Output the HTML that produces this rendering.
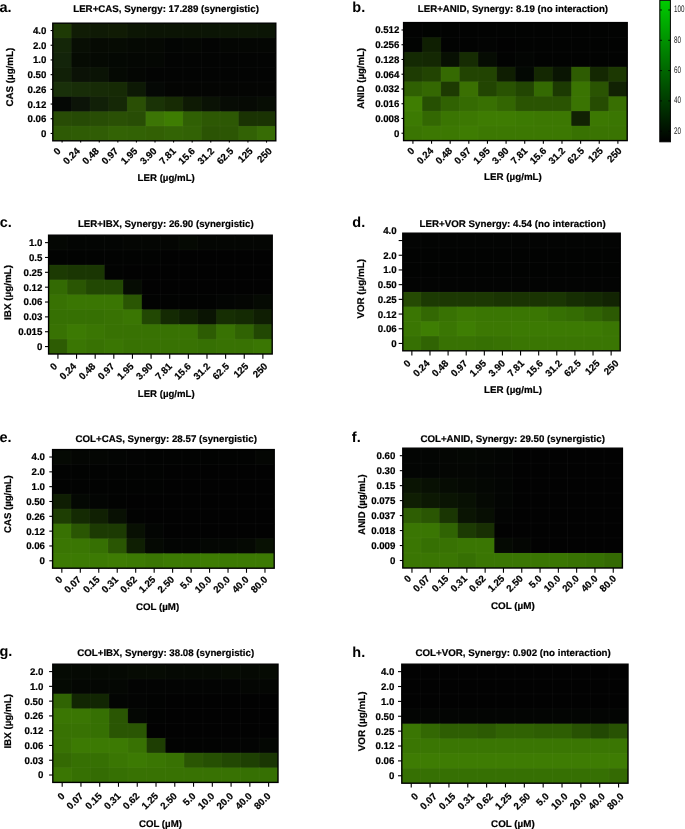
<!DOCTYPE html>
<html><head><meta charset="utf-8"><style>
html,body{margin:0;padding:0;background:#fff;}
body{width:685px;height:829px;overflow:hidden;}
svg{display:block;}
text{font-family:"Liberation Sans", Arial, Helvetica, sans-serif;fill:#000;text-rendering:geometricPrecision;}
.t{font-size:9.7px;font-weight:bold;stroke:#000;stroke-width:0.2px;}
.tx{font-size:9.7px;font-weight:bold;stroke:#000;stroke-width:0.2px;}
.le{font-size:14.5px;font-weight:bold;}
.cbt{font-size:9.5px;fill:#222;}
</style></head><body>
<svg width="685" height="829" viewBox="0 0 685 829">
<rect x="52.8" y="23.2" width="19.58" height="15.7" fill="#1e3a05"/>
<rect x="71.38" y="23.2" width="19.58" height="15.7" fill="#101c05"/>
<rect x="89.97" y="23.2" width="19.58" height="15.7" fill="#0f1a05"/>
<rect x="108.55" y="23.2" width="19.58" height="15.7" fill="#101b04"/>
<rect x="127.13" y="23.2" width="19.58" height="15.7" fill="#0c1604"/>
<rect x="145.72" y="23.2" width="19.58" height="15.7" fill="#0b1404"/>
<rect x="164.3" y="23.2" width="19.58" height="15.7" fill="#0b1404"/>
<rect x="182.88" y="23.2" width="19.58" height="15.7" fill="#0b1404"/>
<rect x="201.47" y="23.2" width="19.58" height="15.7" fill="#0b1505"/>
<rect x="220.05" y="23.2" width="19.58" height="15.7" fill="#0c1605"/>
<rect x="238.63" y="23.2" width="19.58" height="15.7" fill="#0c1605"/>
<rect x="257.22" y="23.2" width="18.58" height="15.7" fill="#0b1505"/>
<rect x="52.8" y="37.9" width="19.58" height="15.7" fill="#142608"/>
<rect x="71.38" y="37.9" width="19.58" height="15.7" fill="#080e04"/>
<rect x="89.97" y="37.9" width="19.58" height="15.7" fill="#060a03"/>
<rect x="108.55" y="37.9" width="19.58" height="15.7" fill="#060b03"/>
<rect x="127.13" y="37.9" width="19.58" height="15.7" fill="#050903"/>
<rect x="145.72" y="37.9" width="19.58" height="15.7" fill="#050803"/>
<rect x="164.3" y="37.9" width="19.58" height="15.7" fill="#030503"/>
<rect x="182.88" y="37.9" width="19.58" height="15.7" fill="#040603"/>
<rect x="201.47" y="37.9" width="19.58" height="15.7" fill="#030403"/>
<rect x="220.05" y="37.9" width="19.58" height="15.7" fill="#040603"/>
<rect x="238.63" y="37.9" width="19.58" height="15.7" fill="#040603"/>
<rect x="257.22" y="37.9" width="18.58" height="15.7" fill="#040603"/>
<rect x="52.8" y="52.6" width="19.58" height="15.7" fill="#13240a"/>
<rect x="71.38" y="52.6" width="19.58" height="15.7" fill="#060b03"/>
<rect x="89.97" y="52.6" width="19.58" height="15.7" fill="#050903"/>
<rect x="108.55" y="52.6" width="19.58" height="15.7" fill="#040803"/>
<rect x="127.13" y="52.6" width="19.58" height="15.7" fill="#040703"/>
<rect x="145.72" y="52.6" width="19.58" height="15.7" fill="#040703"/>
<rect x="164.3" y="52.6" width="19.58" height="15.7" fill="#030403"/>
<rect x="182.88" y="52.6" width="19.58" height="15.7" fill="#030403"/>
<rect x="201.47" y="52.6" width="19.58" height="15.7" fill="#030403"/>
<rect x="220.05" y="52.6" width="19.58" height="15.7" fill="#030403"/>
<rect x="238.63" y="52.6" width="19.58" height="15.7" fill="#030403"/>
<rect x="257.22" y="52.6" width="18.58" height="15.7" fill="#030403"/>
<rect x="52.8" y="67.3" width="19.58" height="15.7" fill="#112007"/>
<rect x="71.38" y="67.3" width="19.58" height="15.7" fill="#0b1206"/>
<rect x="89.97" y="67.3" width="19.58" height="15.7" fill="#0a1305"/>
<rect x="108.55" y="67.3" width="19.58" height="15.7" fill="#050903"/>
<rect x="127.13" y="67.3" width="19.58" height="15.7" fill="#040603"/>
<rect x="145.72" y="67.3" width="19.58" height="15.7" fill="#030403"/>
<rect x="164.3" y="67.3" width="19.58" height="15.7" fill="#030403"/>
<rect x="182.88" y="67.3" width="19.58" height="15.7" fill="#030403"/>
<rect x="201.47" y="67.3" width="19.58" height="15.7" fill="#030403"/>
<rect x="220.05" y="67.3" width="19.58" height="15.7" fill="#030403"/>
<rect x="238.63" y="67.3" width="19.58" height="15.7" fill="#030403"/>
<rect x="257.22" y="67.3" width="18.58" height="15.7" fill="#030403"/>
<rect x="52.8" y="82" width="19.58" height="15.7" fill="#19300a"/>
<rect x="71.38" y="82" width="19.58" height="15.7" fill="#182d08"/>
<rect x="89.97" y="82" width="19.58" height="15.7" fill="#172b07"/>
<rect x="108.55" y="82" width="19.58" height="15.7" fill="#162a05"/>
<rect x="127.13" y="82" width="19.58" height="15.7" fill="#0d1905"/>
<rect x="145.72" y="82" width="19.58" height="15.7" fill="#050805"/>
<rect x="164.3" y="82" width="19.58" height="15.7" fill="#040503"/>
<rect x="182.88" y="82" width="19.58" height="15.7" fill="#040503"/>
<rect x="201.47" y="82" width="19.58" height="15.7" fill="#040503"/>
<rect x="220.05" y="82" width="19.58" height="15.7" fill="#040503"/>
<rect x="238.63" y="82" width="19.58" height="15.7" fill="#040503"/>
<rect x="257.22" y="82" width="18.58" height="15.7" fill="#040503"/>
<rect x="52.8" y="96.7" width="19.58" height="15.7" fill="#050805"/>
<rect x="71.38" y="96.7" width="19.58" height="15.7" fill="#0c1408"/>
<rect x="89.97" y="96.7" width="19.58" height="15.7" fill="#112008"/>
<rect x="108.55" y="96.7" width="19.58" height="15.7" fill="#152806"/>
<rect x="127.13" y="96.7" width="19.58" height="15.7" fill="#2a4f05"/>
<rect x="145.72" y="96.7" width="19.58" height="15.7" fill="#1a3306"/>
<rect x="164.3" y="96.7" width="19.58" height="15.7" fill="#172b04"/>
<rect x="182.88" y="96.7" width="19.58" height="15.7" fill="#0e1a04"/>
<rect x="201.47" y="96.7" width="19.58" height="15.7" fill="#0a1205"/>
<rect x="220.05" y="96.7" width="19.58" height="15.7" fill="#070c05"/>
<rect x="238.63" y="96.7" width="19.58" height="15.7" fill="#060a04"/>
<rect x="257.22" y="96.7" width="18.58" height="15.7" fill="#070d04"/>
<rect x="52.8" y="111.4" width="19.58" height="15.7" fill="#284c05"/>
<rect x="71.38" y="111.4" width="19.58" height="15.7" fill="#264a05"/>
<rect x="89.97" y="111.4" width="19.58" height="15.7" fill="#284d05"/>
<rect x="108.55" y="111.4" width="19.58" height="15.7" fill="#2a5005"/>
<rect x="127.13" y="111.4" width="19.58" height="15.7" fill="#284d05"/>
<rect x="145.72" y="111.4" width="19.58" height="15.7" fill="#3c7505"/>
<rect x="164.3" y="111.4" width="19.58" height="15.7" fill="#3e7d02"/>
<rect x="182.88" y="111.4" width="19.58" height="15.7" fill="#306004"/>
<rect x="201.47" y="111.4" width="19.58" height="15.7" fill="#2d5804"/>
<rect x="220.05" y="111.4" width="19.58" height="15.7" fill="#2d5804"/>
<rect x="238.63" y="111.4" width="19.58" height="15.7" fill="#1a3303"/>
<rect x="257.22" y="111.4" width="18.58" height="15.7" fill="#1a3303"/>
<rect x="52.8" y="126.1" width="19.58" height="14.7" fill="#2e5a05"/>
<rect x="71.38" y="126.1" width="19.58" height="14.7" fill="#2f5c05"/>
<rect x="89.97" y="126.1" width="19.58" height="14.7" fill="#305d05"/>
<rect x="108.55" y="126.1" width="19.58" height="14.7" fill="#336305"/>
<rect x="127.13" y="126.1" width="19.58" height="14.7" fill="#326205"/>
<rect x="145.72" y="126.1" width="19.58" height="14.7" fill="#326004"/>
<rect x="164.3" y="126.1" width="19.58" height="14.7" fill="#336405"/>
<rect x="182.88" y="126.1" width="19.58" height="14.7" fill="#326205"/>
<rect x="201.47" y="126.1" width="19.58" height="14.7" fill="#2b5404"/>
<rect x="220.05" y="126.1" width="19.58" height="14.7" fill="#2c5604"/>
<rect x="238.63" y="126.1" width="19.58" height="14.7" fill="#326205"/>
<rect x="257.22" y="126.1" width="18.58" height="14.7" fill="#376c05"/>
<path d="M71.38 23.2V140.8M89.97 23.2V140.8M108.55 23.2V140.8M127.13 23.2V140.8M145.72 23.2V140.8M164.3 23.2V140.8M182.88 23.2V140.8M201.47 23.2V140.8M220.05 23.2V140.8M238.63 23.2V140.8M257.22 23.2V140.8M52.8 37.9H275.8M52.8 52.6H275.8M52.8 67.3H275.8M52.8 82H275.8M52.8 96.7H275.8M52.8 111.4H275.8M52.8 126.1H275.8" stroke="#fff" stroke-opacity="0.035" stroke-width="1" fill="none"/>
<rect x="52.8" y="23.2" width="223" height="117.6" fill="none" stroke="#000" stroke-width="1.4"/>
<line x1="50.6" y1="30.55" x2="52.8" y2="30.55" stroke="#000" stroke-width="1.1"/>
<text class="t" x="46.4" y="34" text-anchor="end">4.0</text>
<line x1="50.6" y1="45.25" x2="52.8" y2="45.25" stroke="#000" stroke-width="1.1"/>
<text class="t" x="46.4" y="48.7" text-anchor="end">2.0</text>
<line x1="50.6" y1="59.95" x2="52.8" y2="59.95" stroke="#000" stroke-width="1.1"/>
<text class="t" x="46.4" y="63.4" text-anchor="end">1.0</text>
<line x1="50.6" y1="74.65" x2="52.8" y2="74.65" stroke="#000" stroke-width="1.1"/>
<text class="t" x="46.4" y="78.1" text-anchor="end">0.50</text>
<line x1="50.6" y1="89.35" x2="52.8" y2="89.35" stroke="#000" stroke-width="1.1"/>
<text class="t" x="46.4" y="92.8" text-anchor="end">0.26</text>
<line x1="50.6" y1="104.05" x2="52.8" y2="104.05" stroke="#000" stroke-width="1.1"/>
<text class="t" x="46.4" y="107.5" text-anchor="end">0.12</text>
<line x1="50.6" y1="118.75" x2="52.8" y2="118.75" stroke="#000" stroke-width="1.1"/>
<text class="t" x="46.4" y="122.2" text-anchor="end">0.06</text>
<line x1="50.6" y1="133.45" x2="52.8" y2="133.45" stroke="#000" stroke-width="1.1"/>
<text class="t" x="46.4" y="136.9" text-anchor="end">0</text>
<line x1="62.09" y1="140.8" x2="62.09" y2="142.6" stroke="#000" stroke-width="1.1"/>
<text class="t" x="61.27" y="151.7" text-anchor="end" transform="rotate(-45 61.27 151.7)">0</text>
<line x1="80.67" y1="140.8" x2="80.67" y2="142.6" stroke="#000" stroke-width="1.1"/>
<text class="t" x="80.47" y="151.7" text-anchor="end" transform="rotate(-45 80.47 151.7)">0.24</text>
<line x1="99.26" y1="140.8" x2="99.26" y2="142.6" stroke="#000" stroke-width="1.1"/>
<text class="t" x="99.68" y="151.7" text-anchor="end" transform="rotate(-45 99.68 151.7)">0.48</text>
<line x1="117.84" y1="140.8" x2="117.84" y2="142.6" stroke="#000" stroke-width="1.1"/>
<text class="t" x="118.88" y="151.7" text-anchor="end" transform="rotate(-45 118.88 151.7)">0.97</text>
<line x1="136.43" y1="140.8" x2="136.43" y2="142.6" stroke="#000" stroke-width="1.1"/>
<text class="t" x="138.09" y="151.7" text-anchor="end" transform="rotate(-45 138.09 151.7)">1.95</text>
<line x1="155.01" y1="140.8" x2="155.01" y2="142.6" stroke="#000" stroke-width="1.1"/>
<text class="t" x="157.29" y="151.7" text-anchor="end" transform="rotate(-45 157.29 151.7)">3.90</text>
<line x1="173.59" y1="140.8" x2="173.59" y2="142.6" stroke="#000" stroke-width="1.1"/>
<text class="t" x="176.49" y="151.7" text-anchor="end" transform="rotate(-45 176.49 151.7)">7.81</text>
<line x1="192.18" y1="140.8" x2="192.18" y2="142.6" stroke="#000" stroke-width="1.1"/>
<text class="t" x="195.7" y="151.7" text-anchor="end" transform="rotate(-45 195.7 151.7)">15.6</text>
<line x1="210.76" y1="140.8" x2="210.76" y2="142.6" stroke="#000" stroke-width="1.1"/>
<text class="t" x="214.9" y="151.7" text-anchor="end" transform="rotate(-45 214.9 151.7)">31.2</text>
<line x1="229.34" y1="140.8" x2="229.34" y2="142.6" stroke="#000" stroke-width="1.1"/>
<text class="t" x="234.1" y="151.7" text-anchor="end" transform="rotate(-45 234.1 151.7)">62.5</text>
<line x1="247.93" y1="140.8" x2="247.93" y2="142.6" stroke="#000" stroke-width="1.1"/>
<text class="t" x="253.31" y="151.7" text-anchor="end" transform="rotate(-45 253.31 151.7)">125</text>
<line x1="266.51" y1="140.8" x2="266.51" y2="142.6" stroke="#000" stroke-width="1.1"/>
<text class="t" x="272.51" y="151.7" text-anchor="end" transform="rotate(-45 272.51 151.7)">250</text>
<text class="tx" x="73.2" y="12" textLength="185.7" lengthAdjust="spacingAndGlyphs">LER+CAS, Synergy: 17.289 (synergistic)</text>
<text class="tx" x="137.6" y="181.1" textLength="57.2" lengthAdjust="spacingAndGlyphs">LER (µg/mL)</text>
<text class="tx" transform="translate(12.6 106.5) rotate(-90)" x="0" y="0" textLength="58.7" lengthAdjust="spacingAndGlyphs">CAS (µg/mL)</text>
<text class="le" x="-0.6" y="12.2">a.</text>
<rect x="403.6" y="22.6" width="19.63" height="15.75" fill="#020302"/>
<rect x="422.23" y="22.6" width="19.63" height="15.75" fill="#010301"/>
<rect x="440.87" y="22.6" width="19.63" height="15.75" fill="#020302"/>
<rect x="459.5" y="22.6" width="19.63" height="15.75" fill="#020302"/>
<rect x="478.13" y="22.6" width="19.63" height="15.75" fill="#020302"/>
<rect x="496.77" y="22.6" width="19.63" height="15.75" fill="#020302"/>
<rect x="515.4" y="22.6" width="19.63" height="15.75" fill="#020302"/>
<rect x="534.03" y="22.6" width="19.63" height="15.75" fill="#020302"/>
<rect x="552.67" y="22.6" width="19.63" height="15.75" fill="#020302"/>
<rect x="571.3" y="22.6" width="19.63" height="15.75" fill="#020302"/>
<rect x="589.93" y="22.6" width="19.63" height="15.75" fill="#020302"/>
<rect x="608.57" y="22.6" width="18.63" height="15.75" fill="#020302"/>
<rect x="403.6" y="37.35" width="19.63" height="15.75" fill="#020402"/>
<rect x="422.23" y="37.35" width="19.63" height="15.75" fill="#0f1f02"/>
<rect x="440.87" y="37.35" width="19.63" height="15.75" fill="#020302"/>
<rect x="459.5" y="37.35" width="19.63" height="15.75" fill="#020302"/>
<rect x="478.13" y="37.35" width="19.63" height="15.75" fill="#030403"/>
<rect x="496.77" y="37.35" width="19.63" height="15.75" fill="#020202"/>
<rect x="515.4" y="37.35" width="19.63" height="15.75" fill="#020302"/>
<rect x="534.03" y="37.35" width="19.63" height="15.75" fill="#020302"/>
<rect x="552.67" y="37.35" width="19.63" height="15.75" fill="#020302"/>
<rect x="571.3" y="37.35" width="19.63" height="15.75" fill="#020302"/>
<rect x="589.93" y="37.35" width="19.63" height="15.75" fill="#020302"/>
<rect x="608.57" y="37.35" width="18.63" height="15.75" fill="#020302"/>
<rect x="403.6" y="52.1" width="19.63" height="15.75" fill="#142a03"/>
<rect x="422.23" y="52.1" width="19.63" height="15.75" fill="#142803"/>
<rect x="440.87" y="52.1" width="19.63" height="15.75" fill="#081003"/>
<rect x="459.5" y="52.1" width="19.63" height="15.75" fill="#162c03"/>
<rect x="478.13" y="52.1" width="19.63" height="15.75" fill="#060c03"/>
<rect x="496.77" y="52.1" width="19.63" height="15.75" fill="#020302"/>
<rect x="515.4" y="52.1" width="19.63" height="15.75" fill="#030503"/>
<rect x="534.03" y="52.1" width="19.63" height="15.75" fill="#020302"/>
<rect x="552.67" y="52.1" width="19.63" height="15.75" fill="#020302"/>
<rect x="571.3" y="52.1" width="19.63" height="15.75" fill="#020302"/>
<rect x="589.93" y="52.1" width="19.63" height="15.75" fill="#020302"/>
<rect x="608.57" y="52.1" width="18.63" height="15.75" fill="#020302"/>
<rect x="403.6" y="66.85" width="19.63" height="15.75" fill="#1e3c03"/>
<rect x="422.23" y="66.85" width="19.63" height="15.75" fill="#224402"/>
<rect x="440.87" y="66.85" width="19.63" height="15.75" fill="#356a02"/>
<rect x="459.5" y="66.85" width="19.63" height="15.75" fill="#224402"/>
<rect x="478.13" y="66.85" width="19.63" height="15.75" fill="#224402"/>
<rect x="496.77" y="66.85" width="19.63" height="15.75" fill="#0f1e02"/>
<rect x="515.4" y="66.85" width="19.63" height="15.75" fill="#030803"/>
<rect x="534.03" y="66.85" width="19.63" height="15.75" fill="#142802"/>
<rect x="552.67" y="66.85" width="19.63" height="15.75" fill="#0a1503"/>
<rect x="571.3" y="66.85" width="19.63" height="15.75" fill="#2e5c02"/>
<rect x="589.93" y="66.85" width="19.63" height="15.75" fill="#142802"/>
<rect x="608.57" y="66.85" width="18.63" height="15.75" fill="#1c3802"/>
<rect x="403.6" y="81.6" width="19.63" height="15.75" fill="#2f6002"/>
<rect x="422.23" y="81.6" width="19.63" height="15.75" fill="#346802"/>
<rect x="440.87" y="81.6" width="19.63" height="15.75" fill="#1d3a02"/>
<rect x="459.5" y="81.6" width="19.63" height="15.75" fill="#3a7002"/>
<rect x="478.13" y="81.6" width="19.63" height="15.75" fill="#224502"/>
<rect x="496.77" y="81.6" width="19.63" height="15.75" fill="#295302"/>
<rect x="515.4" y="81.6" width="19.63" height="15.75" fill="#224602"/>
<rect x="534.03" y="81.6" width="19.63" height="15.75" fill="#346a02"/>
<rect x="552.67" y="81.6" width="19.63" height="15.75" fill="#1c3a02"/>
<rect x="571.3" y="81.6" width="19.63" height="15.75" fill="#3a7402"/>
<rect x="589.93" y="81.6" width="19.63" height="15.75" fill="#2a5402"/>
<rect x="608.57" y="81.6" width="18.63" height="15.75" fill="#112203"/>
<rect x="403.6" y="96.35" width="19.63" height="15.75" fill="#3f7e02"/>
<rect x="422.23" y="96.35" width="19.63" height="15.75" fill="#265002"/>
<rect x="440.87" y="96.35" width="19.63" height="15.75" fill="#306202"/>
<rect x="459.5" y="96.35" width="19.63" height="15.75" fill="#356b02"/>
<rect x="478.13" y="96.35" width="19.63" height="15.75" fill="#387002"/>
<rect x="496.77" y="96.35" width="19.63" height="15.75" fill="#336602"/>
<rect x="515.4" y="96.35" width="19.63" height="15.75" fill="#2a5402"/>
<rect x="534.03" y="96.35" width="19.63" height="15.75" fill="#2a5402"/>
<rect x="552.67" y="96.35" width="19.63" height="15.75" fill="#2a5402"/>
<rect x="571.3" y="96.35" width="19.63" height="15.75" fill="#3a7402"/>
<rect x="589.93" y="96.35" width="19.63" height="15.75" fill="#264c02"/>
<rect x="608.57" y="96.35" width="18.63" height="15.75" fill="#386f02"/>
<rect x="403.6" y="111.1" width="19.63" height="15.75" fill="#3c7a02"/>
<rect x="422.23" y="111.1" width="19.63" height="15.75" fill="#336802"/>
<rect x="440.87" y="111.1" width="19.63" height="15.75" fill="#3a7502"/>
<rect x="459.5" y="111.1" width="19.63" height="15.75" fill="#3c7802"/>
<rect x="478.13" y="111.1" width="19.63" height="15.75" fill="#3e7c02"/>
<rect x="496.77" y="111.1" width="19.63" height="15.75" fill="#3e7c02"/>
<rect x="515.4" y="111.1" width="19.63" height="15.75" fill="#3c7a02"/>
<rect x="534.03" y="111.1" width="19.63" height="15.75" fill="#3c7802"/>
<rect x="552.67" y="111.1" width="19.63" height="15.75" fill="#3c7802"/>
<rect x="571.3" y="111.1" width="19.63" height="15.75" fill="#112203"/>
<rect x="589.93" y="111.1" width="19.63" height="15.75" fill="#3c7802"/>
<rect x="608.57" y="111.1" width="18.63" height="15.75" fill="#3a7602"/>
<rect x="403.6" y="125.85" width="19.63" height="14.75" fill="#3a7502"/>
<rect x="422.23" y="125.85" width="19.63" height="14.75" fill="#3c7802"/>
<rect x="440.87" y="125.85" width="19.63" height="14.75" fill="#3c7802"/>
<rect x="459.5" y="125.85" width="19.63" height="14.75" fill="#3e7c02"/>
<rect x="478.13" y="125.85" width="19.63" height="14.75" fill="#3c7802"/>
<rect x="496.77" y="125.85" width="19.63" height="14.75" fill="#3c7802"/>
<rect x="515.4" y="125.85" width="19.63" height="14.75" fill="#3c7802"/>
<rect x="534.03" y="125.85" width="19.63" height="14.75" fill="#3c7802"/>
<rect x="552.67" y="125.85" width="19.63" height="14.75" fill="#3c7802"/>
<rect x="571.3" y="125.85" width="19.63" height="14.75" fill="#387202"/>
<rect x="589.93" y="125.85" width="19.63" height="14.75" fill="#3a7402"/>
<rect x="608.57" y="125.85" width="18.63" height="14.75" fill="#3a7402"/>
<path d="M422.23 22.6V140.6M440.87 22.6V140.6M459.5 22.6V140.6M478.13 22.6V140.6M496.77 22.6V140.6M515.4 22.6V140.6M534.03 22.6V140.6M552.67 22.6V140.6M571.3 22.6V140.6M589.93 22.6V140.6M608.57 22.6V140.6M403.6 37.35H627.2M403.6 52.1H627.2M403.6 66.85H627.2M403.6 81.6H627.2M403.6 96.35H627.2M403.6 111.1H627.2M403.6 125.85H627.2" stroke="#fff" stroke-opacity="0.035" stroke-width="1" fill="none"/>
<rect x="403.6" y="22.6" width="223.6" height="118" fill="none" stroke="#000" stroke-width="1.4"/>
<line x1="401.5" y1="29.98" x2="403.6" y2="29.98" stroke="#000" stroke-width="1.1"/>
<text class="t" x="399.4" y="33.43" text-anchor="end">0.512</text>
<line x1="401.5" y1="44.73" x2="403.6" y2="44.73" stroke="#000" stroke-width="1.1"/>
<text class="t" x="399.4" y="48.18" text-anchor="end">0.256</text>
<line x1="401.5" y1="59.48" x2="403.6" y2="59.48" stroke="#000" stroke-width="1.1"/>
<text class="t" x="399.4" y="62.93" text-anchor="end">0.128</text>
<line x1="401.5" y1="74.22" x2="403.6" y2="74.22" stroke="#000" stroke-width="1.1"/>
<text class="t" x="399.4" y="77.67" text-anchor="end">0.064</text>
<line x1="401.5" y1="88.97" x2="403.6" y2="88.97" stroke="#000" stroke-width="1.1"/>
<text class="t" x="399.4" y="92.42" text-anchor="end">0.032</text>
<line x1="401.5" y1="103.72" x2="403.6" y2="103.72" stroke="#000" stroke-width="1.1"/>
<text class="t" x="399.4" y="107.17" text-anchor="end">0.016</text>
<line x1="401.5" y1="118.47" x2="403.6" y2="118.47" stroke="#000" stroke-width="1.1"/>
<text class="t" x="399.4" y="121.92" text-anchor="end">0.008</text>
<line x1="401.5" y1="133.22" x2="403.6" y2="133.22" stroke="#000" stroke-width="1.1"/>
<text class="t" x="399.4" y="136.67" text-anchor="end">0</text>
<line x1="412.92" y1="140.6" x2="412.92" y2="143.7" stroke="#000" stroke-width="1.1"/>
<text class="t" x="415.16" y="151.45" text-anchor="end" transform="rotate(-45 415.16 151.45)">0</text>
<line x1="431.55" y1="140.6" x2="431.55" y2="143.7" stroke="#000" stroke-width="1.1"/>
<text class="t" x="434" y="151.45" text-anchor="end" transform="rotate(-45 434 151.45)">0.24</text>
<line x1="450.18" y1="140.6" x2="450.18" y2="143.7" stroke="#000" stroke-width="1.1"/>
<text class="t" x="452.84" y="151.45" text-anchor="end" transform="rotate(-45 452.84 151.45)">0.48</text>
<line x1="468.82" y1="140.6" x2="468.82" y2="143.7" stroke="#000" stroke-width="1.1"/>
<text class="t" x="471.68" y="151.45" text-anchor="end" transform="rotate(-45 471.68 151.45)">0.97</text>
<line x1="487.45" y1="140.6" x2="487.45" y2="143.7" stroke="#000" stroke-width="1.1"/>
<text class="t" x="490.51" y="151.45" text-anchor="end" transform="rotate(-45 490.51 151.45)">1.95</text>
<line x1="506.08" y1="140.6" x2="506.08" y2="143.7" stroke="#000" stroke-width="1.1"/>
<text class="t" x="509.35" y="151.45" text-anchor="end" transform="rotate(-45 509.35 151.45)">3.90</text>
<line x1="524.72" y1="140.6" x2="524.72" y2="143.7" stroke="#000" stroke-width="1.1"/>
<text class="t" x="528.19" y="151.45" text-anchor="end" transform="rotate(-45 528.19 151.45)">7.81</text>
<line x1="543.35" y1="140.6" x2="543.35" y2="143.7" stroke="#000" stroke-width="1.1"/>
<text class="t" x="547.03" y="151.45" text-anchor="end" transform="rotate(-45 547.03 151.45)">15.6</text>
<line x1="561.98" y1="140.6" x2="561.98" y2="143.7" stroke="#000" stroke-width="1.1"/>
<text class="t" x="565.87" y="151.45" text-anchor="end" transform="rotate(-45 565.87 151.45)">31.2</text>
<line x1="580.62" y1="140.6" x2="580.62" y2="143.7" stroke="#000" stroke-width="1.1"/>
<text class="t" x="584.71" y="151.45" text-anchor="end" transform="rotate(-45 584.71 151.45)">62.5</text>
<line x1="599.25" y1="140.6" x2="599.25" y2="143.7" stroke="#000" stroke-width="1.1"/>
<text class="t" x="603.54" y="151.45" text-anchor="end" transform="rotate(-45 603.54 151.45)">125</text>
<line x1="617.88" y1="140.6" x2="617.88" y2="143.7" stroke="#000" stroke-width="1.1"/>
<text class="t" x="622.38" y="151.45" text-anchor="end" transform="rotate(-45 622.38 151.45)">250</text>
<text class="tx" x="417.8" y="12.3" textLength="190.3" lengthAdjust="spacingAndGlyphs">LER+ANID, Synergy: 8.19 (no interaction)</text>
<text class="tx" x="484.1" y="180.4" textLength="57.7" lengthAdjust="spacingAndGlyphs">LER (µg/mL)</text>
<text class="tx" transform="translate(364.1 108.7) rotate(-90)" x="0" y="0" textLength="60.6" lengthAdjust="spacingAndGlyphs">ANID (µg/mL)</text>
<text class="le" x="352.3" y="11.9">b.</text>
<rect x="48.6" y="235.2" width="19.63" height="15.85" fill="#040703"/>
<rect x="67.23" y="235.2" width="19.63" height="15.85" fill="#030503"/>
<rect x="85.87" y="235.2" width="19.63" height="15.85" fill="#030503"/>
<rect x="104.5" y="235.2" width="19.63" height="15.85" fill="#030503"/>
<rect x="123.13" y="235.2" width="19.63" height="15.85" fill="#040603"/>
<rect x="141.77" y="235.2" width="19.63" height="15.85" fill="#040603"/>
<rect x="160.4" y="235.2" width="19.63" height="15.85" fill="#040603"/>
<rect x="179.03" y="235.2" width="19.63" height="15.85" fill="#050903"/>
<rect x="197.67" y="235.2" width="19.63" height="15.85" fill="#040603"/>
<rect x="216.3" y="235.2" width="19.63" height="15.85" fill="#040603"/>
<rect x="234.93" y="235.2" width="19.63" height="15.85" fill="#040603"/>
<rect x="253.57" y="235.2" width="18.63" height="15.85" fill="#040603"/>
<rect x="48.6" y="250.05" width="19.63" height="15.85" fill="#020302"/>
<rect x="67.23" y="250.05" width="19.63" height="15.85" fill="#020302"/>
<rect x="85.87" y="250.05" width="19.63" height="15.85" fill="#020302"/>
<rect x="104.5" y="250.05" width="19.63" height="15.85" fill="#020302"/>
<rect x="123.13" y="250.05" width="19.63" height="15.85" fill="#020302"/>
<rect x="141.77" y="250.05" width="19.63" height="15.85" fill="#020302"/>
<rect x="160.4" y="250.05" width="19.63" height="15.85" fill="#020202"/>
<rect x="179.03" y="250.05" width="19.63" height="15.85" fill="#020202"/>
<rect x="197.67" y="250.05" width="19.63" height="15.85" fill="#020202"/>
<rect x="216.3" y="250.05" width="19.63" height="15.85" fill="#020202"/>
<rect x="234.93" y="250.05" width="19.63" height="15.85" fill="#020202"/>
<rect x="253.57" y="250.05" width="18.63" height="15.85" fill="#020202"/>
<rect x="48.6" y="264.9" width="19.63" height="15.85" fill="#1c3a03"/>
<rect x="67.23" y="264.9" width="19.63" height="15.85" fill="#1a3603"/>
<rect x="85.87" y="264.9" width="19.63" height="15.85" fill="#1a3603"/>
<rect x="104.5" y="264.9" width="19.63" height="15.85" fill="#020302"/>
<rect x="123.13" y="264.9" width="19.63" height="15.85" fill="#020202"/>
<rect x="141.77" y="264.9" width="19.63" height="15.85" fill="#020202"/>
<rect x="160.4" y="264.9" width="19.63" height="15.85" fill="#020202"/>
<rect x="179.03" y="264.9" width="19.63" height="15.85" fill="#020202"/>
<rect x="197.67" y="264.9" width="19.63" height="15.85" fill="#020202"/>
<rect x="216.3" y="264.9" width="19.63" height="15.85" fill="#020202"/>
<rect x="234.93" y="264.9" width="19.63" height="15.85" fill="#020202"/>
<rect x="253.57" y="264.9" width="18.63" height="15.85" fill="#020202"/>
<rect x="48.6" y="279.75" width="19.63" height="15.85" fill="#336a03"/>
<rect x="67.23" y="279.75" width="19.63" height="15.85" fill="#2a5603"/>
<rect x="85.87" y="279.75" width="19.63" height="15.85" fill="#224803"/>
<rect x="104.5" y="279.75" width="19.63" height="15.85" fill="#224803"/>
<rect x="123.13" y="279.75" width="19.63" height="15.85" fill="#060c03"/>
<rect x="141.77" y="279.75" width="19.63" height="15.85" fill="#020202"/>
<rect x="160.4" y="279.75" width="19.63" height="15.85" fill="#020202"/>
<rect x="179.03" y="279.75" width="19.63" height="15.85" fill="#020202"/>
<rect x="197.67" y="279.75" width="19.63" height="15.85" fill="#020202"/>
<rect x="216.3" y="279.75" width="19.63" height="15.85" fill="#020202"/>
<rect x="234.93" y="279.75" width="19.63" height="15.85" fill="#020202"/>
<rect x="253.57" y="279.75" width="18.63" height="15.85" fill="#020202"/>
<rect x="48.6" y="294.6" width="19.63" height="15.85" fill="#387203"/>
<rect x="67.23" y="294.6" width="19.63" height="15.85" fill="#3a7603"/>
<rect x="85.87" y="294.6" width="19.63" height="15.85" fill="#3a7603"/>
<rect x="104.5" y="294.6" width="19.63" height="15.85" fill="#3a7603"/>
<rect x="123.13" y="294.6" width="19.63" height="15.85" fill="#2a5603"/>
<rect x="141.77" y="294.6" width="19.63" height="15.85" fill="#020302"/>
<rect x="160.4" y="294.6" width="19.63" height="15.85" fill="#020302"/>
<rect x="179.03" y="294.6" width="19.63" height="15.85" fill="#020302"/>
<rect x="197.67" y="294.6" width="19.63" height="15.85" fill="#020302"/>
<rect x="216.3" y="294.6" width="19.63" height="15.85" fill="#030503"/>
<rect x="234.93" y="294.6" width="19.63" height="15.85" fill="#040603"/>
<rect x="253.57" y="294.6" width="18.63" height="15.85" fill="#050a03"/>
<rect x="48.6" y="309.45" width="19.63" height="15.85" fill="#367003"/>
<rect x="67.23" y="309.45" width="19.63" height="15.85" fill="#367003"/>
<rect x="85.87" y="309.45" width="19.63" height="15.85" fill="#367003"/>
<rect x="104.5" y="309.45" width="19.63" height="15.85" fill="#387203"/>
<rect x="123.13" y="309.45" width="19.63" height="15.85" fill="#3a7603"/>
<rect x="141.77" y="309.45" width="19.63" height="15.85" fill="#224803"/>
<rect x="160.4" y="309.45" width="19.63" height="15.85" fill="#142a03"/>
<rect x="179.03" y="309.45" width="19.63" height="15.85" fill="#0f1f03"/>
<rect x="197.67" y="309.45" width="19.63" height="15.85" fill="#0a1403"/>
<rect x="216.3" y="309.45" width="19.63" height="15.85" fill="#162e03"/>
<rect x="234.93" y="309.45" width="19.63" height="15.85" fill="#142a03"/>
<rect x="253.57" y="309.45" width="18.63" height="15.85" fill="#0f1e03"/>
<rect x="48.6" y="324.3" width="19.63" height="15.85" fill="#387203"/>
<rect x="67.23" y="324.3" width="19.63" height="15.85" fill="#3c7a03"/>
<rect x="85.87" y="324.3" width="19.63" height="15.85" fill="#3a7603"/>
<rect x="104.5" y="324.3" width="19.63" height="15.85" fill="#387203"/>
<rect x="123.13" y="324.3" width="19.63" height="15.85" fill="#387203"/>
<rect x="141.77" y="324.3" width="19.63" height="15.85" fill="#387203"/>
<rect x="160.4" y="324.3" width="19.63" height="15.85" fill="#387203"/>
<rect x="179.03" y="324.3" width="19.63" height="15.85" fill="#387203"/>
<rect x="197.67" y="324.3" width="19.63" height="15.85" fill="#2d5c03"/>
<rect x="216.3" y="324.3" width="19.63" height="15.85" fill="#387203"/>
<rect x="234.93" y="324.3" width="19.63" height="15.85" fill="#306303"/>
<rect x="253.57" y="324.3" width="18.63" height="15.85" fill="#224803"/>
<rect x="48.6" y="339.15" width="19.63" height="14.85" fill="#2d5c03"/>
<rect x="67.23" y="339.15" width="19.63" height="14.85" fill="#3a7603"/>
<rect x="85.87" y="339.15" width="19.63" height="14.85" fill="#387203"/>
<rect x="104.5" y="339.15" width="19.63" height="14.85" fill="#3a7603"/>
<rect x="123.13" y="339.15" width="19.63" height="14.85" fill="#387203"/>
<rect x="141.77" y="339.15" width="19.63" height="14.85" fill="#387203"/>
<rect x="160.4" y="339.15" width="19.63" height="14.85" fill="#387203"/>
<rect x="179.03" y="339.15" width="19.63" height="14.85" fill="#387203"/>
<rect x="197.67" y="339.15" width="19.63" height="14.85" fill="#367003"/>
<rect x="216.3" y="339.15" width="19.63" height="14.85" fill="#387203"/>
<rect x="234.93" y="339.15" width="19.63" height="14.85" fill="#387203"/>
<rect x="253.57" y="339.15" width="18.63" height="14.85" fill="#3a7603"/>
<path d="M67.23 235.2V354M85.87 235.2V354M104.5 235.2V354M123.13 235.2V354M141.77 235.2V354M160.4 235.2V354M179.03 235.2V354M197.67 235.2V354M216.3 235.2V354M234.93 235.2V354M253.57 235.2V354M48.6 250.05H272.2M48.6 264.9H272.2M48.6 279.75H272.2M48.6 294.6H272.2M48.6 309.45H272.2M48.6 324.3H272.2M48.6 339.15H272.2" stroke="#fff" stroke-opacity="0.035" stroke-width="1" fill="none"/>
<rect x="48.6" y="235.2" width="223.6" height="118.8" fill="none" stroke="#000" stroke-width="1.4"/>
<line x1="45" y1="242.62" x2="48.6" y2="242.62" stroke="#000" stroke-width="1.1"/>
<text class="t" x="42.4" y="246.07" text-anchor="end">1.0</text>
<line x1="45" y1="257.47" x2="48.6" y2="257.47" stroke="#000" stroke-width="1.1"/>
<text class="t" x="42.4" y="260.92" text-anchor="end">0.5</text>
<line x1="45" y1="272.32" x2="48.6" y2="272.32" stroke="#000" stroke-width="1.1"/>
<text class="t" x="42.4" y="275.77" text-anchor="end">0.25</text>
<line x1="45" y1="287.18" x2="48.6" y2="287.18" stroke="#000" stroke-width="1.1"/>
<text class="t" x="42.4" y="290.62" text-anchor="end">0.12</text>
<line x1="45" y1="302.02" x2="48.6" y2="302.02" stroke="#000" stroke-width="1.1"/>
<text class="t" x="42.4" y="305.47" text-anchor="end">0.06</text>
<line x1="45" y1="316.88" x2="48.6" y2="316.88" stroke="#000" stroke-width="1.1"/>
<text class="t" x="42.4" y="320.32" text-anchor="end">0.03</text>
<line x1="45" y1="331.73" x2="48.6" y2="331.73" stroke="#000" stroke-width="1.1"/>
<text class="t" x="42.4" y="335.18" text-anchor="end">0.015</text>
<line x1="45" y1="346.57" x2="48.6" y2="346.57" stroke="#000" stroke-width="1.1"/>
<text class="t" x="42.4" y="350.02" text-anchor="end">0</text>
<line x1="57.92" y1="354" x2="57.92" y2="358.8" stroke="#000" stroke-width="1.1"/>
<text class="t" x="57.84" y="366.9" text-anchor="end" transform="rotate(-45 57.84 366.9)">0</text>
<line x1="76.55" y1="354" x2="76.55" y2="358.8" stroke="#000" stroke-width="1.1"/>
<text class="t" x="76.95" y="366.9" text-anchor="end" transform="rotate(-45 76.95 366.9)">0.24</text>
<line x1="95.18" y1="354" x2="95.18" y2="358.8" stroke="#000" stroke-width="1.1"/>
<text class="t" x="96.06" y="366.9" text-anchor="end" transform="rotate(-45 96.06 366.9)">0.48</text>
<line x1="113.82" y1="354" x2="113.82" y2="358.8" stroke="#000" stroke-width="1.1"/>
<text class="t" x="115.18" y="366.9" text-anchor="end" transform="rotate(-45 115.18 366.9)">0.97</text>
<line x1="132.45" y1="354" x2="132.45" y2="358.8" stroke="#000" stroke-width="1.1"/>
<text class="t" x="134.29" y="366.9" text-anchor="end" transform="rotate(-45 134.29 366.9)">1.95</text>
<line x1="151.08" y1="354" x2="151.08" y2="358.8" stroke="#000" stroke-width="1.1"/>
<text class="t" x="153.4" y="366.9" text-anchor="end" transform="rotate(-45 153.4 366.9)">3.90</text>
<line x1="169.72" y1="354" x2="169.72" y2="358.8" stroke="#000" stroke-width="1.1"/>
<text class="t" x="172.52" y="366.9" text-anchor="end" transform="rotate(-45 172.52 366.9)">7.81</text>
<line x1="188.35" y1="354" x2="188.35" y2="358.8" stroke="#000" stroke-width="1.1"/>
<text class="t" x="191.63" y="366.9" text-anchor="end" transform="rotate(-45 191.63 366.9)">15.6</text>
<line x1="206.98" y1="354" x2="206.98" y2="358.8" stroke="#000" stroke-width="1.1"/>
<text class="t" x="210.74" y="366.9" text-anchor="end" transform="rotate(-45 210.74 366.9)">31.2</text>
<line x1="225.62" y1="354" x2="225.62" y2="358.8" stroke="#000" stroke-width="1.1"/>
<text class="t" x="229.86" y="366.9" text-anchor="end" transform="rotate(-45 229.86 366.9)">62.5</text>
<line x1="244.25" y1="354" x2="244.25" y2="358.8" stroke="#000" stroke-width="1.1"/>
<text class="t" x="248.97" y="366.9" text-anchor="end" transform="rotate(-45 248.97 366.9)">125</text>
<line x1="262.88" y1="354" x2="262.88" y2="358.8" stroke="#000" stroke-width="1.1"/>
<text class="t" x="268.08" y="366.9" text-anchor="end" transform="rotate(-45 268.08 366.9)">250</text>
<text class="tx" x="77.9" y="227" textLength="175.8" lengthAdjust="spacingAndGlyphs">LER+IBX, Synergy: 26.90 (synergistic)</text>
<text class="tx" x="137.8" y="396.5" textLength="56.8" lengthAdjust="spacingAndGlyphs">LER (µg/mL)</text>
<text class="tx" transform="translate(11.3 319.9) rotate(-90)" x="0" y="0" textLength="54.8" lengthAdjust="spacingAndGlyphs">IBX (µg/mL)</text>
<text class="le" x="-0.3" y="226.8">c.</text>
<rect x="402.8" y="233.2" width="19.12" height="15.7" fill="#030403"/>
<rect x="420.92" y="233.2" width="19.12" height="15.7" fill="#030403"/>
<rect x="439.03" y="233.2" width="19.12" height="15.7" fill="#030403"/>
<rect x="457.15" y="233.2" width="19.12" height="15.7" fill="#030403"/>
<rect x="475.27" y="233.2" width="19.12" height="15.7" fill="#030403"/>
<rect x="493.38" y="233.2" width="19.12" height="15.7" fill="#030403"/>
<rect x="511.5" y="233.2" width="19.12" height="15.7" fill="#030403"/>
<rect x="529.62" y="233.2" width="19.12" height="15.7" fill="#030403"/>
<rect x="547.73" y="233.2" width="19.12" height="15.7" fill="#030403"/>
<rect x="565.85" y="233.2" width="19.12" height="15.7" fill="#030403"/>
<rect x="583.97" y="233.2" width="19.12" height="15.7" fill="#030403"/>
<rect x="602.08" y="233.2" width="18.12" height="15.7" fill="#030403"/>
<rect x="402.8" y="247.9" width="19.12" height="15.7" fill="#020302"/>
<rect x="420.92" y="247.9" width="19.12" height="15.7" fill="#020302"/>
<rect x="439.03" y="247.9" width="19.12" height="15.7" fill="#020302"/>
<rect x="457.15" y="247.9" width="19.12" height="15.7" fill="#020302"/>
<rect x="475.27" y="247.9" width="19.12" height="15.7" fill="#020302"/>
<rect x="493.38" y="247.9" width="19.12" height="15.7" fill="#020302"/>
<rect x="511.5" y="247.9" width="19.12" height="15.7" fill="#020302"/>
<rect x="529.62" y="247.9" width="19.12" height="15.7" fill="#020302"/>
<rect x="547.73" y="247.9" width="19.12" height="15.7" fill="#020302"/>
<rect x="565.85" y="247.9" width="19.12" height="15.7" fill="#020302"/>
<rect x="583.97" y="247.9" width="19.12" height="15.7" fill="#020302"/>
<rect x="602.08" y="247.9" width="18.12" height="15.7" fill="#020302"/>
<rect x="402.8" y="262.6" width="19.12" height="15.7" fill="#020302"/>
<rect x="420.92" y="262.6" width="19.12" height="15.7" fill="#020302"/>
<rect x="439.03" y="262.6" width="19.12" height="15.7" fill="#020302"/>
<rect x="457.15" y="262.6" width="19.12" height="15.7" fill="#020302"/>
<rect x="475.27" y="262.6" width="19.12" height="15.7" fill="#020302"/>
<rect x="493.38" y="262.6" width="19.12" height="15.7" fill="#020302"/>
<rect x="511.5" y="262.6" width="19.12" height="15.7" fill="#020302"/>
<rect x="529.62" y="262.6" width="19.12" height="15.7" fill="#020302"/>
<rect x="547.73" y="262.6" width="19.12" height="15.7" fill="#020302"/>
<rect x="565.85" y="262.6" width="19.12" height="15.7" fill="#020302"/>
<rect x="583.97" y="262.6" width="19.12" height="15.7" fill="#020302"/>
<rect x="602.08" y="262.6" width="18.12" height="15.7" fill="#020302"/>
<rect x="402.8" y="277.3" width="19.12" height="15.7" fill="#030403"/>
<rect x="420.92" y="277.3" width="19.12" height="15.7" fill="#030403"/>
<rect x="439.03" y="277.3" width="19.12" height="15.7" fill="#030403"/>
<rect x="457.15" y="277.3" width="19.12" height="15.7" fill="#030403"/>
<rect x="475.27" y="277.3" width="19.12" height="15.7" fill="#030403"/>
<rect x="493.38" y="277.3" width="19.12" height="15.7" fill="#030403"/>
<rect x="511.5" y="277.3" width="19.12" height="15.7" fill="#030403"/>
<rect x="529.62" y="277.3" width="19.12" height="15.7" fill="#030403"/>
<rect x="547.73" y="277.3" width="19.12" height="15.7" fill="#030403"/>
<rect x="565.85" y="277.3" width="19.12" height="15.7" fill="#030403"/>
<rect x="583.97" y="277.3" width="19.12" height="15.7" fill="#030403"/>
<rect x="602.08" y="277.3" width="18.12" height="15.7" fill="#030403"/>
<rect x="402.8" y="292" width="19.12" height="15.7" fill="#254a03"/>
<rect x="420.92" y="292" width="19.12" height="15.7" fill="#1c3a03"/>
<rect x="439.03" y="292" width="19.12" height="15.7" fill="#1c3803"/>
<rect x="457.15" y="292" width="19.12" height="15.7" fill="#1c3803"/>
<rect x="475.27" y="292" width="19.12" height="15.7" fill="#1c3803"/>
<rect x="493.38" y="292" width="19.12" height="15.7" fill="#1a3403"/>
<rect x="511.5" y="292" width="19.12" height="15.7" fill="#1a3403"/>
<rect x="529.62" y="292" width="19.12" height="15.7" fill="#1a3403"/>
<rect x="547.73" y="292" width="19.12" height="15.7" fill="#1a3603"/>
<rect x="565.85" y="292" width="19.12" height="15.7" fill="#162e03"/>
<rect x="583.97" y="292" width="19.12" height="15.7" fill="#142a03"/>
<rect x="602.08" y="292" width="18.12" height="15.7" fill="#122403"/>
<rect x="402.8" y="306.7" width="19.12" height="15.7" fill="#3a7603"/>
<rect x="420.92" y="306.7" width="19.12" height="15.7" fill="#336803"/>
<rect x="439.03" y="306.7" width="19.12" height="15.7" fill="#387203"/>
<rect x="457.15" y="306.7" width="19.12" height="15.7" fill="#3c7803"/>
<rect x="475.27" y="306.7" width="19.12" height="15.7" fill="#3a7603"/>
<rect x="493.38" y="306.7" width="19.12" height="15.7" fill="#3a7603"/>
<rect x="511.5" y="306.7" width="19.12" height="15.7" fill="#3a7603"/>
<rect x="529.62" y="306.7" width="19.12" height="15.7" fill="#3a7603"/>
<rect x="547.73" y="306.7" width="19.12" height="15.7" fill="#367003"/>
<rect x="565.85" y="306.7" width="19.12" height="15.7" fill="#346c03"/>
<rect x="583.97" y="306.7" width="19.12" height="15.7" fill="#306403"/>
<rect x="602.08" y="306.7" width="18.12" height="15.7" fill="#2c5a03"/>
<rect x="402.8" y="321.4" width="19.12" height="15.7" fill="#3a7603"/>
<rect x="420.92" y="321.4" width="19.12" height="15.7" fill="#3e7e03"/>
<rect x="439.03" y="321.4" width="19.12" height="15.7" fill="#3a7603"/>
<rect x="457.15" y="321.4" width="19.12" height="15.7" fill="#3e7e03"/>
<rect x="475.27" y="321.4" width="19.12" height="15.7" fill="#3c7803"/>
<rect x="493.38" y="321.4" width="19.12" height="15.7" fill="#3c7803"/>
<rect x="511.5" y="321.4" width="19.12" height="15.7" fill="#3c7a03"/>
<rect x="529.62" y="321.4" width="19.12" height="15.7" fill="#3c7a03"/>
<rect x="547.73" y="321.4" width="19.12" height="15.7" fill="#3c7a03"/>
<rect x="565.85" y="321.4" width="19.12" height="15.7" fill="#3c7a03"/>
<rect x="583.97" y="321.4" width="19.12" height="15.7" fill="#3c7a03"/>
<rect x="602.08" y="321.4" width="18.12" height="15.7" fill="#3a7603"/>
<rect x="402.8" y="336.1" width="19.12" height="14.7" fill="#367003"/>
<rect x="420.92" y="336.1" width="19.12" height="14.7" fill="#306403"/>
<rect x="439.03" y="336.1" width="19.12" height="14.7" fill="#387203"/>
<rect x="457.15" y="336.1" width="19.12" height="14.7" fill="#387203"/>
<rect x="475.27" y="336.1" width="19.12" height="14.7" fill="#367003"/>
<rect x="493.38" y="336.1" width="19.12" height="14.7" fill="#387203"/>
<rect x="511.5" y="336.1" width="19.12" height="14.7" fill="#3a7603"/>
<rect x="529.62" y="336.1" width="19.12" height="14.7" fill="#3a7603"/>
<rect x="547.73" y="336.1" width="19.12" height="14.7" fill="#3a7603"/>
<rect x="565.85" y="336.1" width="19.12" height="14.7" fill="#3a7603"/>
<rect x="583.97" y="336.1" width="19.12" height="14.7" fill="#3a7603"/>
<rect x="602.08" y="336.1" width="18.12" height="14.7" fill="#3a7603"/>
<path d="M420.92 233.2V350.8M439.03 233.2V350.8M457.15 233.2V350.8M475.27 233.2V350.8M493.38 233.2V350.8M511.5 233.2V350.8M529.62 233.2V350.8M547.73 233.2V350.8M565.85 233.2V350.8M583.97 233.2V350.8M602.08 233.2V350.8M402.8 247.9H620.2M402.8 262.6H620.2M402.8 277.3H620.2M402.8 292H620.2M402.8 306.7H620.2M402.8 321.4H620.2M402.8 336.1H620.2" stroke="#fff" stroke-opacity="0.035" stroke-width="1" fill="none"/>
<rect x="402.8" y="233.2" width="217.4" height="117.6" fill="none" stroke="#000" stroke-width="1.4"/>
<line x1="398.65" y1="240.55" x2="402.8" y2="240.55" stroke="#000" stroke-width="1.1"/>
<text class="t" x="396.7" y="234.4" text-anchor="end">4.0</text>
<line x1="398.65" y1="255.25" x2="402.8" y2="255.25" stroke="#000" stroke-width="1.1"/>
<text class="t" x="396.7" y="258.7" text-anchor="end">2.0</text>
<line x1="398.65" y1="269.95" x2="402.8" y2="269.95" stroke="#000" stroke-width="1.1"/>
<text class="t" x="396.7" y="273.4" text-anchor="end">1.0</text>
<line x1="398.65" y1="284.65" x2="402.8" y2="284.65" stroke="#000" stroke-width="1.1"/>
<text class="t" x="396.7" y="288.1" text-anchor="end">0.50</text>
<line x1="398.65" y1="299.35" x2="402.8" y2="299.35" stroke="#000" stroke-width="1.1"/>
<text class="t" x="396.7" y="302.8" text-anchor="end">0.25</text>
<line x1="398.65" y1="314.05" x2="402.8" y2="314.05" stroke="#000" stroke-width="1.1"/>
<text class="t" x="396.7" y="317.5" text-anchor="end">0.12</text>
<line x1="398.65" y1="328.75" x2="402.8" y2="328.75" stroke="#000" stroke-width="1.1"/>
<text class="t" x="396.7" y="332.2" text-anchor="end">0.06</text>
<line x1="398.65" y1="343.45" x2="402.8" y2="343.45" stroke="#000" stroke-width="1.1"/>
<text class="t" x="396.7" y="346.9" text-anchor="end">0</text>
<line x1="411.86" y1="350.8" x2="411.86" y2="355.4" stroke="#000" stroke-width="1.1"/>
<text class="t" x="411.32" y="364" text-anchor="end" transform="rotate(-45 411.32 364)">0</text>
<line x1="429.98" y1="350.8" x2="429.98" y2="355.4" stroke="#000" stroke-width="1.1"/>
<text class="t" x="430.23" y="364" text-anchor="end" transform="rotate(-45 430.23 364)">0.24</text>
<line x1="448.09" y1="350.8" x2="448.09" y2="355.4" stroke="#000" stroke-width="1.1"/>
<text class="t" x="449.13" y="364" text-anchor="end" transform="rotate(-45 449.13 364)">0.48</text>
<line x1="466.21" y1="350.8" x2="466.21" y2="355.4" stroke="#000" stroke-width="1.1"/>
<text class="t" x="468.03" y="364" text-anchor="end" transform="rotate(-45 468.03 364)">0.97</text>
<line x1="484.33" y1="350.8" x2="484.33" y2="355.4" stroke="#000" stroke-width="1.1"/>
<text class="t" x="486.93" y="364" text-anchor="end" transform="rotate(-45 486.93 364)">1.95</text>
<line x1="502.44" y1="350.8" x2="502.44" y2="355.4" stroke="#000" stroke-width="1.1"/>
<text class="t" x="505.83" y="364" text-anchor="end" transform="rotate(-45 505.83 364)">3.90</text>
<line x1="520.56" y1="350.8" x2="520.56" y2="355.4" stroke="#000" stroke-width="1.1"/>
<text class="t" x="524.73" y="364" text-anchor="end" transform="rotate(-45 524.73 364)">7.81</text>
<line x1="538.68" y1="350.8" x2="538.68" y2="355.4" stroke="#000" stroke-width="1.1"/>
<text class="t" x="543.64" y="364" text-anchor="end" transform="rotate(-45 543.64 364)">15.6</text>
<line x1="556.79" y1="350.8" x2="556.79" y2="355.4" stroke="#000" stroke-width="1.1"/>
<text class="t" x="562.54" y="364" text-anchor="end" transform="rotate(-45 562.54 364)">31.2</text>
<line x1="574.91" y1="350.8" x2="574.91" y2="355.4" stroke="#000" stroke-width="1.1"/>
<text class="t" x="581.44" y="364" text-anchor="end" transform="rotate(-45 581.44 364)">62.5</text>
<line x1="593.03" y1="350.8" x2="593.03" y2="355.4" stroke="#000" stroke-width="1.1"/>
<text class="t" x="600.34" y="364" text-anchor="end" transform="rotate(-45 600.34 364)">125</text>
<line x1="611.14" y1="350.8" x2="611.14" y2="355.4" stroke="#000" stroke-width="1.1"/>
<text class="t" x="619.24" y="364" text-anchor="end" transform="rotate(-45 619.24 364)">250</text>
<text class="tx" x="419.6" y="226.7" textLength="186.1" lengthAdjust="spacingAndGlyphs">LER+VOR Synergy: 4.54 (no interaction)</text>
<text class="tx" x="484.1" y="393.1" textLength="57.8" lengthAdjust="spacingAndGlyphs">LER (µg/mL)</text>
<text class="tx" transform="translate(364.3 318.6) rotate(-90)" x="0" y="0" textLength="59.5" lengthAdjust="spacingAndGlyphs">VOR (µg/mL)</text>
<text class="le" x="352.3" y="226.8">d.</text>
<rect x="52.6" y="449.6" width="19.47" height="15.83" fill="#050903"/>
<rect x="71.07" y="449.6" width="19.47" height="15.83" fill="#040603"/>
<rect x="89.53" y="449.6" width="19.47" height="15.83" fill="#040603"/>
<rect x="108" y="449.6" width="19.47" height="15.83" fill="#030503"/>
<rect x="126.47" y="449.6" width="19.47" height="15.83" fill="#030403"/>
<rect x="144.93" y="449.6" width="19.47" height="15.83" fill="#020302"/>
<rect x="163.4" y="449.6" width="19.47" height="15.83" fill="#020302"/>
<rect x="181.87" y="449.6" width="19.47" height="15.83" fill="#020302"/>
<rect x="200.33" y="449.6" width="19.47" height="15.83" fill="#020302"/>
<rect x="218.8" y="449.6" width="19.47" height="15.83" fill="#020302"/>
<rect x="237.27" y="449.6" width="19.47" height="15.83" fill="#020302"/>
<rect x="255.73" y="449.6" width="18.47" height="15.83" fill="#040603"/>
<rect x="52.6" y="464.43" width="19.47" height="15.83" fill="#020302"/>
<rect x="71.07" y="464.43" width="19.47" height="15.83" fill="#020302"/>
<rect x="89.53" y="464.43" width="19.47" height="15.83" fill="#020302"/>
<rect x="108" y="464.43" width="19.47" height="15.83" fill="#020302"/>
<rect x="126.47" y="464.43" width="19.47" height="15.83" fill="#020302"/>
<rect x="144.93" y="464.43" width="19.47" height="15.83" fill="#020302"/>
<rect x="163.4" y="464.43" width="19.47" height="15.83" fill="#020202"/>
<rect x="181.87" y="464.43" width="19.47" height="15.83" fill="#020202"/>
<rect x="200.33" y="464.43" width="19.47" height="15.83" fill="#020202"/>
<rect x="218.8" y="464.43" width="19.47" height="15.83" fill="#020202"/>
<rect x="237.27" y="464.43" width="19.47" height="15.83" fill="#020202"/>
<rect x="255.73" y="464.43" width="18.47" height="15.83" fill="#020202"/>
<rect x="52.6" y="479.25" width="19.47" height="15.83" fill="#020302"/>
<rect x="71.07" y="479.25" width="19.47" height="15.83" fill="#020302"/>
<rect x="89.53" y="479.25" width="19.47" height="15.83" fill="#020302"/>
<rect x="108" y="479.25" width="19.47" height="15.83" fill="#020302"/>
<rect x="126.47" y="479.25" width="19.47" height="15.83" fill="#020302"/>
<rect x="144.93" y="479.25" width="19.47" height="15.83" fill="#020302"/>
<rect x="163.4" y="479.25" width="19.47" height="15.83" fill="#020202"/>
<rect x="181.87" y="479.25" width="19.47" height="15.83" fill="#020202"/>
<rect x="200.33" y="479.25" width="19.47" height="15.83" fill="#020202"/>
<rect x="218.8" y="479.25" width="19.47" height="15.83" fill="#020202"/>
<rect x="237.27" y="479.25" width="19.47" height="15.83" fill="#020202"/>
<rect x="255.73" y="479.25" width="18.47" height="15.83" fill="#020202"/>
<rect x="52.6" y="494.08" width="19.47" height="15.83" fill="#0f1e03"/>
<rect x="71.07" y="494.08" width="19.47" height="15.83" fill="#040803"/>
<rect x="89.53" y="494.08" width="19.47" height="15.83" fill="#030503"/>
<rect x="108" y="494.08" width="19.47" height="15.83" fill="#020302"/>
<rect x="126.47" y="494.08" width="19.47" height="15.83" fill="#020202"/>
<rect x="144.93" y="494.08" width="19.47" height="15.83" fill="#020202"/>
<rect x="163.4" y="494.08" width="19.47" height="15.83" fill="#020202"/>
<rect x="181.87" y="494.08" width="19.47" height="15.83" fill="#020202"/>
<rect x="200.33" y="494.08" width="19.47" height="15.83" fill="#020202"/>
<rect x="218.8" y="494.08" width="19.47" height="15.83" fill="#020202"/>
<rect x="237.27" y="494.08" width="19.47" height="15.83" fill="#020202"/>
<rect x="255.73" y="494.08" width="18.47" height="15.83" fill="#020202"/>
<rect x="52.6" y="508.9" width="19.47" height="15.83" fill="#1e3e03"/>
<rect x="71.07" y="508.9" width="19.47" height="15.83" fill="#142a03"/>
<rect x="89.53" y="508.9" width="19.47" height="15.83" fill="#102003"/>
<rect x="108" y="508.9" width="19.47" height="15.83" fill="#081003"/>
<rect x="126.47" y="508.9" width="19.47" height="15.83" fill="#020302"/>
<rect x="144.93" y="508.9" width="19.47" height="15.83" fill="#020202"/>
<rect x="163.4" y="508.9" width="19.47" height="15.83" fill="#020202"/>
<rect x="181.87" y="508.9" width="19.47" height="15.83" fill="#020202"/>
<rect x="200.33" y="508.9" width="19.47" height="15.83" fill="#020202"/>
<rect x="218.8" y="508.9" width="19.47" height="15.83" fill="#020202"/>
<rect x="237.27" y="508.9" width="19.47" height="15.83" fill="#020202"/>
<rect x="255.73" y="508.9" width="18.47" height="15.83" fill="#020202"/>
<rect x="52.6" y="523.73" width="19.47" height="15.83" fill="#387203"/>
<rect x="71.07" y="523.73" width="19.47" height="15.83" fill="#2a5603"/>
<rect x="89.53" y="523.73" width="19.47" height="15.83" fill="#1c3a03"/>
<rect x="108" y="523.73" width="19.47" height="15.83" fill="#1c3a03"/>
<rect x="126.47" y="523.73" width="19.47" height="15.83" fill="#081003"/>
<rect x="144.93" y="523.73" width="19.47" height="15.83" fill="#030503"/>
<rect x="163.4" y="523.73" width="19.47" height="15.83" fill="#020202"/>
<rect x="181.87" y="523.73" width="19.47" height="15.83" fill="#020202"/>
<rect x="200.33" y="523.73" width="19.47" height="15.83" fill="#020202"/>
<rect x="218.8" y="523.73" width="19.47" height="15.83" fill="#020202"/>
<rect x="237.27" y="523.73" width="19.47" height="15.83" fill="#020202"/>
<rect x="255.73" y="523.73" width="18.47" height="15.83" fill="#020202"/>
<rect x="52.6" y="538.55" width="19.47" height="15.83" fill="#3a7603"/>
<rect x="71.07" y="538.55" width="19.47" height="15.83" fill="#3a7603"/>
<rect x="89.53" y="538.55" width="19.47" height="15.83" fill="#367003"/>
<rect x="108" y="538.55" width="19.47" height="15.83" fill="#2a5603"/>
<rect x="126.47" y="538.55" width="19.47" height="15.83" fill="#0f1f03"/>
<rect x="144.93" y="538.55" width="19.47" height="15.83" fill="#050903"/>
<rect x="163.4" y="538.55" width="19.47" height="15.83" fill="#030503"/>
<rect x="181.87" y="538.55" width="19.47" height="15.83" fill="#030503"/>
<rect x="200.33" y="538.55" width="19.47" height="15.83" fill="#040703"/>
<rect x="218.8" y="538.55" width="19.47" height="15.83" fill="#040703"/>
<rect x="237.27" y="538.55" width="19.47" height="15.83" fill="#050903"/>
<rect x="255.73" y="538.55" width="18.47" height="15.83" fill="#081103"/>
<rect x="52.6" y="553.38" width="19.47" height="14.83" fill="#3c7a03"/>
<rect x="71.07" y="553.38" width="19.47" height="14.83" fill="#3c7a03"/>
<rect x="89.53" y="553.38" width="19.47" height="14.83" fill="#3c7a03"/>
<rect x="108" y="553.38" width="19.47" height="14.83" fill="#3e7c03"/>
<rect x="126.47" y="553.38" width="19.47" height="14.83" fill="#3c7a03"/>
<rect x="144.93" y="553.38" width="19.47" height="14.83" fill="#3a7603"/>
<rect x="163.4" y="553.38" width="19.47" height="14.83" fill="#3c7a03"/>
<rect x="181.87" y="553.38" width="19.47" height="14.83" fill="#3c7a03"/>
<rect x="200.33" y="553.38" width="19.47" height="14.83" fill="#3e7c03"/>
<rect x="218.8" y="553.38" width="19.47" height="14.83" fill="#3c7a03"/>
<rect x="237.27" y="553.38" width="19.47" height="14.83" fill="#3c7a03"/>
<rect x="255.73" y="553.38" width="18.47" height="14.83" fill="#3c7a03"/>
<path d="M71.07 449.6V568.2M89.53 449.6V568.2M108 449.6V568.2M126.47 449.6V568.2M144.93 449.6V568.2M163.4 449.6V568.2M181.87 449.6V568.2M200.33 449.6V568.2M218.8 449.6V568.2M237.27 449.6V568.2M255.73 449.6V568.2M52.6 464.43H274.2M52.6 479.25H274.2M52.6 494.08H274.2M52.6 508.9H274.2M52.6 523.73H274.2M52.6 538.55H274.2M52.6 553.38H274.2" stroke="#fff" stroke-opacity="0.035" stroke-width="1" fill="none"/>
<rect x="52.6" y="449.6" width="221.6" height="118.6" fill="none" stroke="#000" stroke-width="1.4"/>
<line x1="49.3" y1="457.01" x2="52.6" y2="457.01" stroke="#000" stroke-width="1.1"/>
<text class="t" x="45" y="460.46" text-anchor="end">4.0</text>
<line x1="49.3" y1="471.84" x2="52.6" y2="471.84" stroke="#000" stroke-width="1.1"/>
<text class="t" x="45" y="475.29" text-anchor="end">2.0</text>
<line x1="49.3" y1="486.66" x2="52.6" y2="486.66" stroke="#000" stroke-width="1.1"/>
<text class="t" x="45" y="490.11" text-anchor="end">1.0</text>
<line x1="49.3" y1="501.49" x2="52.6" y2="501.49" stroke="#000" stroke-width="1.1"/>
<text class="t" x="45" y="504.94" text-anchor="end">0.50</text>
<line x1="49.3" y1="516.31" x2="52.6" y2="516.31" stroke="#000" stroke-width="1.1"/>
<text class="t" x="45" y="519.76" text-anchor="end">0.26</text>
<line x1="49.3" y1="531.14" x2="52.6" y2="531.14" stroke="#000" stroke-width="1.1"/>
<text class="t" x="45" y="534.59" text-anchor="end">0.12</text>
<line x1="49.3" y1="545.96" x2="52.6" y2="545.96" stroke="#000" stroke-width="1.1"/>
<text class="t" x="45" y="549.41" text-anchor="end">0.06</text>
<line x1="49.3" y1="560.79" x2="52.6" y2="560.79" stroke="#000" stroke-width="1.1"/>
<text class="t" x="45" y="564.24" text-anchor="end">0</text>
<line x1="61.83" y1="568.2" x2="61.83" y2="572.8" stroke="#000" stroke-width="1.1"/>
<text class="t" x="62.96" y="580.15" text-anchor="end" transform="rotate(-45 62.96 580.15)">0</text>
<line x1="80.3" y1="568.2" x2="80.3" y2="572.8" stroke="#000" stroke-width="1.1"/>
<text class="t" x="81.6" y="580.15" text-anchor="end" transform="rotate(-45 81.6 580.15)">0.07</text>
<line x1="98.77" y1="568.2" x2="98.77" y2="572.8" stroke="#000" stroke-width="1.1"/>
<text class="t" x="100.24" y="580.15" text-anchor="end" transform="rotate(-45 100.24 580.15)">0.15</text>
<line x1="117.23" y1="568.2" x2="117.23" y2="572.8" stroke="#000" stroke-width="1.1"/>
<text class="t" x="118.87" y="580.15" text-anchor="end" transform="rotate(-45 118.87 580.15)">0.31</text>
<line x1="135.7" y1="568.2" x2="135.7" y2="572.8" stroke="#000" stroke-width="1.1"/>
<text class="t" x="137.51" y="580.15" text-anchor="end" transform="rotate(-45 137.51 580.15)">0.62</text>
<line x1="154.17" y1="568.2" x2="154.17" y2="572.8" stroke="#000" stroke-width="1.1"/>
<text class="t" x="156.15" y="580.15" text-anchor="end" transform="rotate(-45 156.15 580.15)">1.25</text>
<line x1="172.63" y1="568.2" x2="172.63" y2="572.8" stroke="#000" stroke-width="1.1"/>
<text class="t" x="174.78" y="580.15" text-anchor="end" transform="rotate(-45 174.78 580.15)">2.50</text>
<line x1="191.1" y1="568.2" x2="191.1" y2="572.8" stroke="#000" stroke-width="1.1"/>
<text class="t" x="193.42" y="580.15" text-anchor="end" transform="rotate(-45 193.42 580.15)">5.0</text>
<line x1="209.57" y1="568.2" x2="209.57" y2="572.8" stroke="#000" stroke-width="1.1"/>
<text class="t" x="212.06" y="580.15" text-anchor="end" transform="rotate(-45 212.06 580.15)">10.0</text>
<line x1="228.03" y1="568.2" x2="228.03" y2="572.8" stroke="#000" stroke-width="1.1"/>
<text class="t" x="230.69" y="580.15" text-anchor="end" transform="rotate(-45 230.69 580.15)">20.0</text>
<line x1="246.5" y1="568.2" x2="246.5" y2="572.8" stroke="#000" stroke-width="1.1"/>
<text class="t" x="249.33" y="580.15" text-anchor="end" transform="rotate(-45 249.33 580.15)">40.0</text>
<line x1="264.97" y1="568.2" x2="264.97" y2="572.8" stroke="#000" stroke-width="1.1"/>
<text class="t" x="267.97" y="580.15" text-anchor="end" transform="rotate(-45 267.97 580.15)">80.0</text>
<text class="tx" x="75.42" y="441.6" textLength="181.48" lengthAdjust="spacingAndGlyphs">COL+CAS, Synergy: 28.57 (synergistic)</text>
<text class="tx" x="136" y="610.3" textLength="43.2" lengthAdjust="spacingAndGlyphs">COL (µM)</text>
<text class="tx" transform="translate(11.4 532.9) rotate(-90)" x="0" y="0" textLength="57.6" lengthAdjust="spacingAndGlyphs">CAS (µg/mL)</text>
<text class="le" x="-0.6" y="441.8">e.</text>
<rect x="402.8" y="448.2" width="19.3" height="15.98" fill="#030503"/>
<rect x="421.1" y="448.2" width="19.3" height="15.98" fill="#030503"/>
<rect x="439.4" y="448.2" width="19.3" height="15.98" fill="#040603"/>
<rect x="457.7" y="448.2" width="19.3" height="15.98" fill="#040703"/>
<rect x="476" y="448.2" width="19.3" height="15.98" fill="#040603"/>
<rect x="494.3" y="448.2" width="19.3" height="15.98" fill="#030503"/>
<rect x="512.6" y="448.2" width="19.3" height="15.98" fill="#020202"/>
<rect x="530.9" y="448.2" width="19.3" height="15.98" fill="#020202"/>
<rect x="549.2" y="448.2" width="19.3" height="15.98" fill="#020202"/>
<rect x="567.5" y="448.2" width="19.3" height="15.98" fill="#020202"/>
<rect x="585.8" y="448.2" width="19.3" height="15.98" fill="#020202"/>
<rect x="604.1" y="448.2" width="18.3" height="15.98" fill="#020202"/>
<rect x="402.8" y="463.18" width="19.3" height="15.98" fill="#030503"/>
<rect x="421.1" y="463.18" width="19.3" height="15.98" fill="#030503"/>
<rect x="439.4" y="463.18" width="19.3" height="15.98" fill="#040603"/>
<rect x="457.7" y="463.18" width="19.3" height="15.98" fill="#040603"/>
<rect x="476" y="463.18" width="19.3" height="15.98" fill="#030503"/>
<rect x="494.3" y="463.18" width="19.3" height="15.98" fill="#030403"/>
<rect x="512.6" y="463.18" width="19.3" height="15.98" fill="#020202"/>
<rect x="530.9" y="463.18" width="19.3" height="15.98" fill="#020202"/>
<rect x="549.2" y="463.18" width="19.3" height="15.98" fill="#020202"/>
<rect x="567.5" y="463.18" width="19.3" height="15.98" fill="#020202"/>
<rect x="585.8" y="463.18" width="19.3" height="15.98" fill="#020202"/>
<rect x="604.1" y="463.18" width="18.3" height="15.98" fill="#020202"/>
<rect x="402.8" y="478.15" width="19.3" height="15.98" fill="#0a1403"/>
<rect x="421.1" y="478.15" width="19.3" height="15.98" fill="#081003"/>
<rect x="439.4" y="478.15" width="19.3" height="15.98" fill="#060c03"/>
<rect x="457.7" y="478.15" width="19.3" height="15.98" fill="#050903"/>
<rect x="476" y="478.15" width="19.3" height="15.98" fill="#040703"/>
<rect x="494.3" y="478.15" width="19.3" height="15.98" fill="#030503"/>
<rect x="512.6" y="478.15" width="19.3" height="15.98" fill="#020202"/>
<rect x="530.9" y="478.15" width="19.3" height="15.98" fill="#020202"/>
<rect x="549.2" y="478.15" width="19.3" height="15.98" fill="#020202"/>
<rect x="567.5" y="478.15" width="19.3" height="15.98" fill="#020202"/>
<rect x="585.8" y="478.15" width="19.3" height="15.98" fill="#020202"/>
<rect x="604.1" y="478.15" width="18.3" height="15.98" fill="#020202"/>
<rect x="402.8" y="493.12" width="19.3" height="15.98" fill="#0f1e03"/>
<rect x="421.1" y="493.12" width="19.3" height="15.98" fill="#0c1803"/>
<rect x="439.4" y="493.12" width="19.3" height="15.98" fill="#0a1403"/>
<rect x="457.7" y="493.12" width="19.3" height="15.98" fill="#081003"/>
<rect x="476" y="493.12" width="19.3" height="15.98" fill="#050903"/>
<rect x="494.3" y="493.12" width="19.3" height="15.98" fill="#030503"/>
<rect x="512.6" y="493.12" width="19.3" height="15.98" fill="#020202"/>
<rect x="530.9" y="493.12" width="19.3" height="15.98" fill="#020202"/>
<rect x="549.2" y="493.12" width="19.3" height="15.98" fill="#020202"/>
<rect x="567.5" y="493.12" width="19.3" height="15.98" fill="#020202"/>
<rect x="585.8" y="493.12" width="19.3" height="15.98" fill="#020202"/>
<rect x="604.1" y="493.12" width="18.3" height="15.98" fill="#020202"/>
<rect x="402.8" y="508.1" width="19.3" height="15.98" fill="#2e5e03"/>
<rect x="421.1" y="508.1" width="19.3" height="15.98" fill="#2a5603"/>
<rect x="439.4" y="508.1" width="19.3" height="15.98" fill="#1a3603"/>
<rect x="457.7" y="508.1" width="19.3" height="15.98" fill="#0a1403"/>
<rect x="476" y="508.1" width="19.3" height="15.98" fill="#070e03"/>
<rect x="494.3" y="508.1" width="19.3" height="15.98" fill="#030403"/>
<rect x="512.6" y="508.1" width="19.3" height="15.98" fill="#020202"/>
<rect x="530.9" y="508.1" width="19.3" height="15.98" fill="#020202"/>
<rect x="549.2" y="508.1" width="19.3" height="15.98" fill="#020202"/>
<rect x="567.5" y="508.1" width="19.3" height="15.98" fill="#020202"/>
<rect x="585.8" y="508.1" width="19.3" height="15.98" fill="#020202"/>
<rect x="604.1" y="508.1" width="18.3" height="15.98" fill="#020202"/>
<rect x="402.8" y="523.08" width="19.3" height="15.98" fill="#3a7603"/>
<rect x="421.1" y="523.08" width="19.3" height="15.98" fill="#3a7603"/>
<rect x="439.4" y="523.08" width="19.3" height="15.98" fill="#306403"/>
<rect x="457.7" y="523.08" width="19.3" height="15.98" fill="#1c3a03"/>
<rect x="476" y="523.08" width="19.3" height="15.98" fill="#182f03"/>
<rect x="494.3" y="523.08" width="19.3" height="15.98" fill="#020202"/>
<rect x="512.6" y="523.08" width="19.3" height="15.98" fill="#020202"/>
<rect x="530.9" y="523.08" width="19.3" height="15.98" fill="#020202"/>
<rect x="549.2" y="523.08" width="19.3" height="15.98" fill="#020202"/>
<rect x="567.5" y="523.08" width="19.3" height="15.98" fill="#020202"/>
<rect x="585.8" y="523.08" width="19.3" height="15.98" fill="#020202"/>
<rect x="604.1" y="523.08" width="18.3" height="15.98" fill="#020202"/>
<rect x="402.8" y="538.05" width="19.3" height="15.98" fill="#3a7603"/>
<rect x="421.1" y="538.05" width="19.3" height="15.98" fill="#367003"/>
<rect x="439.4" y="538.05" width="19.3" height="15.98" fill="#387203"/>
<rect x="457.7" y="538.05" width="19.3" height="15.98" fill="#3a7603"/>
<rect x="476" y="538.05" width="19.3" height="15.98" fill="#3a7603"/>
<rect x="494.3" y="538.05" width="19.3" height="15.98" fill="#050a03"/>
<rect x="512.6" y="538.05" width="19.3" height="15.98" fill="#040603"/>
<rect x="530.9" y="538.05" width="19.3" height="15.98" fill="#020202"/>
<rect x="549.2" y="538.05" width="19.3" height="15.98" fill="#020202"/>
<rect x="567.5" y="538.05" width="19.3" height="15.98" fill="#020202"/>
<rect x="585.8" y="538.05" width="19.3" height="15.98" fill="#020202"/>
<rect x="604.1" y="538.05" width="18.3" height="15.98" fill="#020202"/>
<rect x="402.8" y="553.02" width="19.3" height="14.98" fill="#3a7603"/>
<rect x="421.1" y="553.02" width="19.3" height="14.98" fill="#3a7603"/>
<rect x="439.4" y="553.02" width="19.3" height="14.98" fill="#3a7603"/>
<rect x="457.7" y="553.02" width="19.3" height="14.98" fill="#367003"/>
<rect x="476" y="553.02" width="19.3" height="14.98" fill="#3a7603"/>
<rect x="494.3" y="553.02" width="19.3" height="14.98" fill="#3a7603"/>
<rect x="512.6" y="553.02" width="19.3" height="14.98" fill="#3a7603"/>
<rect x="530.9" y="553.02" width="19.3" height="14.98" fill="#3a7603"/>
<rect x="549.2" y="553.02" width="19.3" height="14.98" fill="#3a7603"/>
<rect x="567.5" y="553.02" width="19.3" height="14.98" fill="#387203"/>
<rect x="585.8" y="553.02" width="19.3" height="14.98" fill="#367003"/>
<rect x="604.1" y="553.02" width="18.3" height="14.98" fill="#346a03"/>
<path d="M421.1 448.2V568M439.4 448.2V568M457.7 448.2V568M476 448.2V568M494.3 448.2V568M512.6 448.2V568M530.9 448.2V568M549.2 448.2V568M567.5 448.2V568M585.8 448.2V568M604.1 448.2V568M402.8 463.18H622.4M402.8 478.15H622.4M402.8 493.12H622.4M402.8 508.1H622.4M402.8 523.08H622.4M402.8 538.05H622.4M402.8 553.02H622.4" stroke="#fff" stroke-opacity="0.035" stroke-width="1" fill="none"/>
<rect x="402.8" y="448.2" width="219.6" height="119.8" fill="none" stroke="#000" stroke-width="1.4"/>
<line x1="399.8" y1="455.69" x2="402.8" y2="455.69" stroke="#000" stroke-width="1.1"/>
<text class="t" x="395.4" y="459.14" text-anchor="end">0.60</text>
<line x1="399.8" y1="470.66" x2="402.8" y2="470.66" stroke="#000" stroke-width="1.1"/>
<text class="t" x="395.4" y="474.11" text-anchor="end">0.30</text>
<line x1="399.8" y1="485.64" x2="402.8" y2="485.64" stroke="#000" stroke-width="1.1"/>
<text class="t" x="395.4" y="489.09" text-anchor="end">0.15</text>
<line x1="399.8" y1="500.61" x2="402.8" y2="500.61" stroke="#000" stroke-width="1.1"/>
<text class="t" x="395.4" y="504.06" text-anchor="end">0.075</text>
<line x1="399.8" y1="515.59" x2="402.8" y2="515.59" stroke="#000" stroke-width="1.1"/>
<text class="t" x="395.4" y="519.04" text-anchor="end">0.037</text>
<line x1="399.8" y1="530.56" x2="402.8" y2="530.56" stroke="#000" stroke-width="1.1"/>
<text class="t" x="395.4" y="534.01" text-anchor="end">0.018</text>
<line x1="399.8" y1="545.54" x2="402.8" y2="545.54" stroke="#000" stroke-width="1.1"/>
<text class="t" x="395.4" y="548.99" text-anchor="end">0.009</text>
<line x1="399.8" y1="560.51" x2="402.8" y2="560.51" stroke="#000" stroke-width="1.1"/>
<text class="t" x="395.4" y="563.96" text-anchor="end">0</text>
<line x1="411.95" y1="568" x2="411.95" y2="572.8" stroke="#000" stroke-width="1.1"/>
<text class="t" x="411.8" y="579.15" text-anchor="end" transform="rotate(-45 411.8 579.15)">0</text>
<line x1="430.25" y1="568" x2="430.25" y2="572.8" stroke="#000" stroke-width="1.1"/>
<text class="t" x="430.45" y="579.15" text-anchor="end" transform="rotate(-45 430.45 579.15)">0.07</text>
<line x1="448.55" y1="568" x2="448.55" y2="572.8" stroke="#000" stroke-width="1.1"/>
<text class="t" x="449.1" y="579.15" text-anchor="end" transform="rotate(-45 449.1 579.15)">0.15</text>
<line x1="466.85" y1="568" x2="466.85" y2="572.8" stroke="#000" stroke-width="1.1"/>
<text class="t" x="467.75" y="579.15" text-anchor="end" transform="rotate(-45 467.75 579.15)">0.31</text>
<line x1="485.15" y1="568" x2="485.15" y2="572.8" stroke="#000" stroke-width="1.1"/>
<text class="t" x="486.4" y="579.15" text-anchor="end" transform="rotate(-45 486.4 579.15)">0.62</text>
<line x1="503.45" y1="568" x2="503.45" y2="572.8" stroke="#000" stroke-width="1.1"/>
<text class="t" x="505.05" y="579.15" text-anchor="end" transform="rotate(-45 505.05 579.15)">1.25</text>
<line x1="521.75" y1="568" x2="521.75" y2="572.8" stroke="#000" stroke-width="1.1"/>
<text class="t" x="523.7" y="579.15" text-anchor="end" transform="rotate(-45 523.7 579.15)">2.50</text>
<line x1="540.05" y1="568" x2="540.05" y2="572.8" stroke="#000" stroke-width="1.1"/>
<text class="t" x="542.35" y="579.15" text-anchor="end" transform="rotate(-45 542.35 579.15)">5.0</text>
<line x1="558.35" y1="568" x2="558.35" y2="572.8" stroke="#000" stroke-width="1.1"/>
<text class="t" x="561" y="579.15" text-anchor="end" transform="rotate(-45 561 579.15)">10.0</text>
<line x1="576.65" y1="568" x2="576.65" y2="572.8" stroke="#000" stroke-width="1.1"/>
<text class="t" x="579.65" y="579.15" text-anchor="end" transform="rotate(-45 579.65 579.15)">20.0</text>
<line x1="594.95" y1="568" x2="594.95" y2="572.8" stroke="#000" stroke-width="1.1"/>
<text class="t" x="598.3" y="579.15" text-anchor="end" transform="rotate(-45 598.3 579.15)">40.0</text>
<line x1="613.25" y1="568" x2="613.25" y2="572.8" stroke="#000" stroke-width="1.1"/>
<text class="t" x="616.95" y="579.15" text-anchor="end" transform="rotate(-45 616.95 579.15)">80.0</text>
<text class="tx" x="420.4" y="441.6" textLength="184.5" lengthAdjust="spacingAndGlyphs">COL+ANID, Synergy: 29.50 (synergistic)</text>
<text class="tx" x="490.9" y="609.1" textLength="43.8" lengthAdjust="spacingAndGlyphs">COL (µM)</text>
<text class="tx" transform="translate(364.5 534.7) rotate(-90)" x="0" y="0" textLength="60.3" lengthAdjust="spacingAndGlyphs">ANID (µg/mL)</text>
<text class="le" x="351.8" y="442">f.</text>
<rect x="52.8" y="664.2" width="19.77" height="15.77" fill="#050a03"/>
<rect x="71.57" y="664.2" width="19.77" height="15.77" fill="#050903"/>
<rect x="90.33" y="664.2" width="19.77" height="15.77" fill="#050903"/>
<rect x="109.1" y="664.2" width="19.77" height="15.77" fill="#050903"/>
<rect x="127.87" y="664.2" width="19.77" height="15.77" fill="#060b03"/>
<rect x="146.63" y="664.2" width="19.77" height="15.77" fill="#060b03"/>
<rect x="165.4" y="664.2" width="19.77" height="15.77" fill="#050903"/>
<rect x="184.17" y="664.2" width="19.77" height="15.77" fill="#050903"/>
<rect x="202.93" y="664.2" width="19.77" height="15.77" fill="#050903"/>
<rect x="221.7" y="664.2" width="19.77" height="15.77" fill="#060b03"/>
<rect x="240.47" y="664.2" width="19.77" height="15.77" fill="#050903"/>
<rect x="259.23" y="664.2" width="18.77" height="15.77" fill="#060b03"/>
<rect x="52.8" y="678.98" width="19.77" height="15.77" fill="#050a03"/>
<rect x="71.57" y="678.98" width="19.77" height="15.77" fill="#040703"/>
<rect x="90.33" y="678.98" width="19.77" height="15.77" fill="#040703"/>
<rect x="109.1" y="678.98" width="19.77" height="15.77" fill="#040703"/>
<rect x="127.87" y="678.98" width="19.77" height="15.77" fill="#030403"/>
<rect x="146.63" y="678.98" width="19.77" height="15.77" fill="#030403"/>
<rect x="165.4" y="678.98" width="19.77" height="15.77" fill="#030403"/>
<rect x="184.17" y="678.98" width="19.77" height="15.77" fill="#030403"/>
<rect x="202.93" y="678.98" width="19.77" height="15.77" fill="#030403"/>
<rect x="221.7" y="678.98" width="19.77" height="15.77" fill="#030403"/>
<rect x="240.47" y="678.98" width="19.77" height="15.77" fill="#040603"/>
<rect x="259.23" y="678.98" width="18.77" height="15.77" fill="#040603"/>
<rect x="52.8" y="693.75" width="19.77" height="15.77" fill="#306403"/>
<rect x="71.57" y="693.75" width="19.77" height="15.77" fill="#122603"/>
<rect x="90.33" y="693.75" width="19.77" height="15.77" fill="#122603"/>
<rect x="109.1" y="693.75" width="19.77" height="15.77" fill="#030503"/>
<rect x="127.87" y="693.75" width="19.77" height="15.77" fill="#030403"/>
<rect x="146.63" y="693.75" width="19.77" height="15.77" fill="#020302"/>
<rect x="165.4" y="693.75" width="19.77" height="15.77" fill="#020202"/>
<rect x="184.17" y="693.75" width="19.77" height="15.77" fill="#020202"/>
<rect x="202.93" y="693.75" width="19.77" height="15.77" fill="#020202"/>
<rect x="221.7" y="693.75" width="19.77" height="15.77" fill="#020202"/>
<rect x="240.47" y="693.75" width="19.77" height="15.77" fill="#020202"/>
<rect x="259.23" y="693.75" width="18.77" height="15.77" fill="#020202"/>
<rect x="52.8" y="708.52" width="19.77" height="15.77" fill="#3a7603"/>
<rect x="71.57" y="708.52" width="19.77" height="15.77" fill="#3a7603"/>
<rect x="90.33" y="708.52" width="19.77" height="15.77" fill="#367003"/>
<rect x="109.1" y="708.52" width="19.77" height="15.77" fill="#2a5603"/>
<rect x="127.87" y="708.52" width="19.77" height="15.77" fill="#040703"/>
<rect x="146.63" y="708.52" width="19.77" height="15.77" fill="#020302"/>
<rect x="165.4" y="708.52" width="19.77" height="15.77" fill="#020202"/>
<rect x="184.17" y="708.52" width="19.77" height="15.77" fill="#020202"/>
<rect x="202.93" y="708.52" width="19.77" height="15.77" fill="#020202"/>
<rect x="221.7" y="708.52" width="19.77" height="15.77" fill="#020202"/>
<rect x="240.47" y="708.52" width="19.77" height="15.77" fill="#020202"/>
<rect x="259.23" y="708.52" width="18.77" height="15.77" fill="#020202"/>
<rect x="52.8" y="723.3" width="19.77" height="15.77" fill="#387203"/>
<rect x="71.57" y="723.3" width="19.77" height="15.77" fill="#387203"/>
<rect x="90.33" y="723.3" width="19.77" height="15.77" fill="#367003"/>
<rect x="109.1" y="723.3" width="19.77" height="15.77" fill="#2a5603"/>
<rect x="127.87" y="723.3" width="19.77" height="15.77" fill="#2a5603"/>
<rect x="146.63" y="723.3" width="19.77" height="15.77" fill="#020202"/>
<rect x="165.4" y="723.3" width="19.77" height="15.77" fill="#020202"/>
<rect x="184.17" y="723.3" width="19.77" height="15.77" fill="#020202"/>
<rect x="202.93" y="723.3" width="19.77" height="15.77" fill="#020202"/>
<rect x="221.7" y="723.3" width="19.77" height="15.77" fill="#020202"/>
<rect x="240.47" y="723.3" width="19.77" height="15.77" fill="#020202"/>
<rect x="259.23" y="723.3" width="18.77" height="15.77" fill="#020202"/>
<rect x="52.8" y="738.08" width="19.77" height="15.77" fill="#387203"/>
<rect x="71.57" y="738.08" width="19.77" height="15.77" fill="#3c7a03"/>
<rect x="90.33" y="738.08" width="19.77" height="15.77" fill="#3c7a03"/>
<rect x="109.1" y="738.08" width="19.77" height="15.77" fill="#3c7a03"/>
<rect x="127.87" y="738.08" width="19.77" height="15.77" fill="#387203"/>
<rect x="146.63" y="738.08" width="19.77" height="15.77" fill="#1e3e03"/>
<rect x="165.4" y="738.08" width="19.77" height="15.77" fill="#020302"/>
<rect x="184.17" y="738.08" width="19.77" height="15.77" fill="#020302"/>
<rect x="202.93" y="738.08" width="19.77" height="15.77" fill="#020302"/>
<rect x="221.7" y="738.08" width="19.77" height="15.77" fill="#030403"/>
<rect x="240.47" y="738.08" width="19.77" height="15.77" fill="#030403"/>
<rect x="259.23" y="738.08" width="18.77" height="15.77" fill="#040703"/>
<rect x="52.8" y="752.85" width="19.77" height="15.77" fill="#346a03"/>
<rect x="71.57" y="752.85" width="19.77" height="15.77" fill="#367003"/>
<rect x="90.33" y="752.85" width="19.77" height="15.77" fill="#367003"/>
<rect x="109.1" y="752.85" width="19.77" height="15.77" fill="#3a7603"/>
<rect x="127.87" y="752.85" width="19.77" height="15.77" fill="#3c7a03"/>
<rect x="146.63" y="752.85" width="19.77" height="15.77" fill="#3a7603"/>
<rect x="165.4" y="752.85" width="19.77" height="15.77" fill="#387203"/>
<rect x="184.17" y="752.85" width="19.77" height="15.77" fill="#2a5603"/>
<rect x="202.93" y="752.85" width="19.77" height="15.77" fill="#265003"/>
<rect x="221.7" y="752.85" width="19.77" height="15.77" fill="#224803"/>
<rect x="240.47" y="752.85" width="19.77" height="15.77" fill="#1e4003"/>
<rect x="259.23" y="752.85" width="18.77" height="15.77" fill="#1a3603"/>
<rect x="52.8" y="767.62" width="19.77" height="14.77" fill="#3a7603"/>
<rect x="71.57" y="767.62" width="19.77" height="14.77" fill="#367003"/>
<rect x="90.33" y="767.62" width="19.77" height="14.77" fill="#346c03"/>
<rect x="109.1" y="767.62" width="19.77" height="14.77" fill="#367003"/>
<rect x="127.87" y="767.62" width="19.77" height="14.77" fill="#387203"/>
<rect x="146.63" y="767.62" width="19.77" height="14.77" fill="#387203"/>
<rect x="165.4" y="767.62" width="19.77" height="14.77" fill="#387203"/>
<rect x="184.17" y="767.62" width="19.77" height="14.77" fill="#387203"/>
<rect x="202.93" y="767.62" width="19.77" height="14.77" fill="#387203"/>
<rect x="221.7" y="767.62" width="19.77" height="14.77" fill="#387203"/>
<rect x="240.47" y="767.62" width="19.77" height="14.77" fill="#367003"/>
<rect x="259.23" y="767.62" width="18.77" height="14.77" fill="#367003"/>
<path d="M71.57 664.2V782.4M90.33 664.2V782.4M109.1 664.2V782.4M127.87 664.2V782.4M146.63 664.2V782.4M165.4 664.2V782.4M184.17 664.2V782.4M202.93 664.2V782.4M221.7 664.2V782.4M240.47 664.2V782.4M259.23 664.2V782.4M52.8 678.98H278M52.8 693.75H278M52.8 708.52H278M52.8 723.3H278M52.8 738.08H278M52.8 752.85H278M52.8 767.62H278" stroke="#fff" stroke-opacity="0.035" stroke-width="1" fill="none"/>
<rect x="52.8" y="664.2" width="225.2" height="118.2" fill="none" stroke="#000" stroke-width="1.4"/>
<line x1="49.1" y1="671.59" x2="52.8" y2="671.59" stroke="#000" stroke-width="1.1"/>
<text class="t" x="43.4" y="675.04" text-anchor="end">2.0</text>
<line x1="49.1" y1="686.36" x2="52.8" y2="686.36" stroke="#000" stroke-width="1.1"/>
<text class="t" x="43.4" y="689.81" text-anchor="end">1.0</text>
<line x1="49.1" y1="701.14" x2="52.8" y2="701.14" stroke="#000" stroke-width="1.1"/>
<text class="t" x="43.4" y="704.59" text-anchor="end">0.50</text>
<line x1="49.1" y1="715.91" x2="52.8" y2="715.91" stroke="#000" stroke-width="1.1"/>
<text class="t" x="43.4" y="719.36" text-anchor="end">0.26</text>
<line x1="49.1" y1="730.69" x2="52.8" y2="730.69" stroke="#000" stroke-width="1.1"/>
<text class="t" x="43.4" y="734.14" text-anchor="end">0.12</text>
<line x1="49.1" y1="745.46" x2="52.8" y2="745.46" stroke="#000" stroke-width="1.1"/>
<text class="t" x="43.4" y="748.91" text-anchor="end">0.06</text>
<line x1="49.1" y1="760.24" x2="52.8" y2="760.24" stroke="#000" stroke-width="1.1"/>
<text class="t" x="43.4" y="763.69" text-anchor="end">0.03</text>
<line x1="49.1" y1="775.01" x2="52.8" y2="775.01" stroke="#000" stroke-width="1.1"/>
<text class="t" x="43.4" y="778.46" text-anchor="end">0</text>
<line x1="62.18" y1="782.4" x2="62.18" y2="786.8" stroke="#000" stroke-width="1.1"/>
<text class="t" x="65.21" y="796.6" text-anchor="end" transform="rotate(-45 65.21 796.6)">0</text>
<line x1="80.95" y1="782.4" x2="80.95" y2="786.8" stroke="#000" stroke-width="1.1"/>
<text class="t" x="83.95" y="796.6" text-anchor="end" transform="rotate(-45 83.95 796.6)">0.07</text>
<line x1="99.72" y1="782.4" x2="99.72" y2="786.8" stroke="#000" stroke-width="1.1"/>
<text class="t" x="102.69" y="796.6" text-anchor="end" transform="rotate(-45 102.69 796.6)">0.15</text>
<line x1="118.48" y1="782.4" x2="118.48" y2="786.8" stroke="#000" stroke-width="1.1"/>
<text class="t" x="121.42" y="796.6" text-anchor="end" transform="rotate(-45 121.42 796.6)">0.31</text>
<line x1="137.25" y1="782.4" x2="137.25" y2="786.8" stroke="#000" stroke-width="1.1"/>
<text class="t" x="140.16" y="796.6" text-anchor="end" transform="rotate(-45 140.16 796.6)">0.62</text>
<line x1="156.02" y1="782.4" x2="156.02" y2="786.8" stroke="#000" stroke-width="1.1"/>
<text class="t" x="158.9" y="796.6" text-anchor="end" transform="rotate(-45 158.9 796.6)">1.25</text>
<line x1="174.78" y1="782.4" x2="174.78" y2="786.8" stroke="#000" stroke-width="1.1"/>
<text class="t" x="177.63" y="796.6" text-anchor="end" transform="rotate(-45 177.63 796.6)">2.50</text>
<line x1="193.55" y1="782.4" x2="193.55" y2="786.8" stroke="#000" stroke-width="1.1"/>
<text class="t" x="196.37" y="796.6" text-anchor="end" transform="rotate(-45 196.37 796.6)">5.0</text>
<line x1="212.32" y1="782.4" x2="212.32" y2="786.8" stroke="#000" stroke-width="1.1"/>
<text class="t" x="215.11" y="796.6" text-anchor="end" transform="rotate(-45 215.11 796.6)">10.0</text>
<line x1="231.08" y1="782.4" x2="231.08" y2="786.8" stroke="#000" stroke-width="1.1"/>
<text class="t" x="233.84" y="796.6" text-anchor="end" transform="rotate(-45 233.84 796.6)">20.0</text>
<line x1="249.85" y1="782.4" x2="249.85" y2="786.8" stroke="#000" stroke-width="1.1"/>
<text class="t" x="252.58" y="796.6" text-anchor="end" transform="rotate(-45 252.58 796.6)">40.0</text>
<line x1="268.62" y1="782.4" x2="268.62" y2="786.8" stroke="#000" stroke-width="1.1"/>
<text class="t" x="271.32" y="796.6" text-anchor="end" transform="rotate(-45 271.32 796.6)">80.0</text>
<text class="tx" x="77.2" y="656.3" textLength="177" lengthAdjust="spacingAndGlyphs">COL+IBX, Synergy: 38.08 (synergistic)</text>
<text class="tx" x="139" y="827" textLength="42.9" lengthAdjust="spacingAndGlyphs">COL (µM)</text>
<text class="tx" transform="translate(11.4 748.6) rotate(-90)" x="0" y="0" textLength="54.5" lengthAdjust="spacingAndGlyphs">IBX (µg/mL)</text>
<text class="le" x="-0.6" y="656">g.</text>
<rect x="401.8" y="664.2" width="19.85" height="15.88" fill="#020202"/>
<rect x="420.65" y="664.2" width="19.85" height="15.88" fill="#020202"/>
<rect x="439.5" y="664.2" width="19.85" height="15.88" fill="#020202"/>
<rect x="458.35" y="664.2" width="19.85" height="15.88" fill="#020202"/>
<rect x="477.2" y="664.2" width="19.85" height="15.88" fill="#020202"/>
<rect x="496.05" y="664.2" width="19.85" height="15.88" fill="#020202"/>
<rect x="514.9" y="664.2" width="19.85" height="15.88" fill="#020202"/>
<rect x="533.75" y="664.2" width="19.85" height="15.88" fill="#020202"/>
<rect x="552.6" y="664.2" width="19.85" height="15.88" fill="#020202"/>
<rect x="571.45" y="664.2" width="19.85" height="15.88" fill="#020202"/>
<rect x="590.3" y="664.2" width="19.85" height="15.88" fill="#020202"/>
<rect x="609.15" y="664.2" width="18.85" height="15.88" fill="#020202"/>
<rect x="401.8" y="679.08" width="19.85" height="15.88" fill="#020202"/>
<rect x="420.65" y="679.08" width="19.85" height="15.88" fill="#020202"/>
<rect x="439.5" y="679.08" width="19.85" height="15.88" fill="#020202"/>
<rect x="458.35" y="679.08" width="19.85" height="15.88" fill="#020202"/>
<rect x="477.2" y="679.08" width="19.85" height="15.88" fill="#020202"/>
<rect x="496.05" y="679.08" width="19.85" height="15.88" fill="#020202"/>
<rect x="514.9" y="679.08" width="19.85" height="15.88" fill="#020202"/>
<rect x="533.75" y="679.08" width="19.85" height="15.88" fill="#020202"/>
<rect x="552.6" y="679.08" width="19.85" height="15.88" fill="#020202"/>
<rect x="571.45" y="679.08" width="19.85" height="15.88" fill="#020202"/>
<rect x="590.3" y="679.08" width="19.85" height="15.88" fill="#020202"/>
<rect x="609.15" y="679.08" width="18.85" height="15.88" fill="#020202"/>
<rect x="401.8" y="693.95" width="19.85" height="15.88" fill="#020202"/>
<rect x="420.65" y="693.95" width="19.85" height="15.88" fill="#020202"/>
<rect x="439.5" y="693.95" width="19.85" height="15.88" fill="#020202"/>
<rect x="458.35" y="693.95" width="19.85" height="15.88" fill="#020202"/>
<rect x="477.2" y="693.95" width="19.85" height="15.88" fill="#020202"/>
<rect x="496.05" y="693.95" width="19.85" height="15.88" fill="#020202"/>
<rect x="514.9" y="693.95" width="19.85" height="15.88" fill="#020202"/>
<rect x="533.75" y="693.95" width="19.85" height="15.88" fill="#020202"/>
<rect x="552.6" y="693.95" width="19.85" height="15.88" fill="#020202"/>
<rect x="571.45" y="693.95" width="19.85" height="15.88" fill="#020202"/>
<rect x="590.3" y="693.95" width="19.85" height="15.88" fill="#020202"/>
<rect x="609.15" y="693.95" width="18.85" height="15.88" fill="#020202"/>
<rect x="401.8" y="708.83" width="19.85" height="15.88" fill="#030503"/>
<rect x="420.65" y="708.83" width="19.85" height="15.88" fill="#030503"/>
<rect x="439.5" y="708.83" width="19.85" height="15.88" fill="#030503"/>
<rect x="458.35" y="708.83" width="19.85" height="15.88" fill="#030503"/>
<rect x="477.2" y="708.83" width="19.85" height="15.88" fill="#030503"/>
<rect x="496.05" y="708.83" width="19.85" height="15.88" fill="#030503"/>
<rect x="514.9" y="708.83" width="19.85" height="15.88" fill="#030503"/>
<rect x="533.75" y="708.83" width="19.85" height="15.88" fill="#030503"/>
<rect x="552.6" y="708.83" width="19.85" height="15.88" fill="#030503"/>
<rect x="571.45" y="708.83" width="19.85" height="15.88" fill="#030503"/>
<rect x="590.3" y="708.83" width="19.85" height="15.88" fill="#030503"/>
<rect x="609.15" y="708.83" width="18.85" height="15.88" fill="#030503"/>
<rect x="401.8" y="723.7" width="19.85" height="15.88" fill="#3a7603"/>
<rect x="420.65" y="723.7" width="19.85" height="15.88" fill="#336803"/>
<rect x="439.5" y="723.7" width="19.85" height="15.88" fill="#2e5e03"/>
<rect x="458.35" y="723.7" width="19.85" height="15.88" fill="#2e5e03"/>
<rect x="477.2" y="723.7" width="19.85" height="15.88" fill="#2c5a03"/>
<rect x="496.05" y="723.7" width="19.85" height="15.88" fill="#306203"/>
<rect x="514.9" y="723.7" width="19.85" height="15.88" fill="#306203"/>
<rect x="533.75" y="723.7" width="19.85" height="15.88" fill="#2e5e03"/>
<rect x="552.6" y="723.7" width="19.85" height="15.88" fill="#2e5e03"/>
<rect x="571.45" y="723.7" width="19.85" height="15.88" fill="#285203"/>
<rect x="590.3" y="723.7" width="19.85" height="15.88" fill="#224803"/>
<rect x="609.15" y="723.7" width="18.85" height="15.88" fill="#285203"/>
<rect x="401.8" y="738.58" width="19.85" height="15.88" fill="#3a7603"/>
<rect x="420.65" y="738.58" width="19.85" height="15.88" fill="#3a7603"/>
<rect x="439.5" y="738.58" width="19.85" height="15.88" fill="#3a7603"/>
<rect x="458.35" y="738.58" width="19.85" height="15.88" fill="#3a7603"/>
<rect x="477.2" y="738.58" width="19.85" height="15.88" fill="#3a7603"/>
<rect x="496.05" y="738.58" width="19.85" height="15.88" fill="#3a7603"/>
<rect x="514.9" y="738.58" width="19.85" height="15.88" fill="#3a7603"/>
<rect x="533.75" y="738.58" width="19.85" height="15.88" fill="#3a7603"/>
<rect x="552.6" y="738.58" width="19.85" height="15.88" fill="#3a7603"/>
<rect x="571.45" y="738.58" width="19.85" height="15.88" fill="#3a7603"/>
<rect x="590.3" y="738.58" width="19.85" height="15.88" fill="#3a7603"/>
<rect x="609.15" y="738.58" width="18.85" height="15.88" fill="#3a7603"/>
<rect x="401.8" y="753.45" width="19.85" height="15.88" fill="#3e7c03"/>
<rect x="420.65" y="753.45" width="19.85" height="15.88" fill="#3e7c03"/>
<rect x="439.5" y="753.45" width="19.85" height="15.88" fill="#3e7c03"/>
<rect x="458.35" y="753.45" width="19.85" height="15.88" fill="#3e7c03"/>
<rect x="477.2" y="753.45" width="19.85" height="15.88" fill="#3e7c03"/>
<rect x="496.05" y="753.45" width="19.85" height="15.88" fill="#3e7c03"/>
<rect x="514.9" y="753.45" width="19.85" height="15.88" fill="#3e7c03"/>
<rect x="533.75" y="753.45" width="19.85" height="15.88" fill="#3e7c03"/>
<rect x="552.6" y="753.45" width="19.85" height="15.88" fill="#3e7c03"/>
<rect x="571.45" y="753.45" width="19.85" height="15.88" fill="#3e7c03"/>
<rect x="590.3" y="753.45" width="19.85" height="15.88" fill="#3e7c03"/>
<rect x="609.15" y="753.45" width="18.85" height="15.88" fill="#3e7c03"/>
<rect x="401.8" y="768.33" width="19.85" height="14.88" fill="#367003"/>
<rect x="420.65" y="768.33" width="19.85" height="14.88" fill="#367003"/>
<rect x="439.5" y="768.33" width="19.85" height="14.88" fill="#367003"/>
<rect x="458.35" y="768.33" width="19.85" height="14.88" fill="#367003"/>
<rect x="477.2" y="768.33" width="19.85" height="14.88" fill="#367003"/>
<rect x="496.05" y="768.33" width="19.85" height="14.88" fill="#367003"/>
<rect x="514.9" y="768.33" width="19.85" height="14.88" fill="#367003"/>
<rect x="533.75" y="768.33" width="19.85" height="14.88" fill="#367003"/>
<rect x="552.6" y="768.33" width="19.85" height="14.88" fill="#367003"/>
<rect x="571.45" y="768.33" width="19.85" height="14.88" fill="#367003"/>
<rect x="590.3" y="768.33" width="19.85" height="14.88" fill="#367003"/>
<rect x="609.15" y="768.33" width="18.85" height="14.88" fill="#346a03"/>
<path d="M420.65 664.2V783.2M439.5 664.2V783.2M458.35 664.2V783.2M477.2 664.2V783.2M496.05 664.2V783.2M514.9 664.2V783.2M533.75 664.2V783.2M552.6 664.2V783.2M571.45 664.2V783.2M590.3 664.2V783.2M609.15 664.2V783.2M401.8 679.08H628M401.8 693.95H628M401.8 708.83H628M401.8 723.7H628M401.8 738.58H628M401.8 753.45H628M401.8 768.33H628" stroke="#fff" stroke-opacity="0.035" stroke-width="1" fill="none"/>
<rect x="401.8" y="664.2" width="226.2" height="119" fill="none" stroke="#000" stroke-width="1.4"/>
<line x1="398" y1="671.64" x2="401.8" y2="671.64" stroke="#000" stroke-width="1.1"/>
<text class="t" x="394.4" y="675.09" text-anchor="end">4.0</text>
<line x1="398" y1="686.51" x2="401.8" y2="686.51" stroke="#000" stroke-width="1.1"/>
<text class="t" x="394.4" y="689.96" text-anchor="end">2.0</text>
<line x1="398" y1="701.39" x2="401.8" y2="701.39" stroke="#000" stroke-width="1.1"/>
<text class="t" x="394.4" y="704.84" text-anchor="end">1.0</text>
<line x1="398" y1="716.26" x2="401.8" y2="716.26" stroke="#000" stroke-width="1.1"/>
<text class="t" x="394.4" y="719.71" text-anchor="end">0.50</text>
<line x1="398" y1="731.14" x2="401.8" y2="731.14" stroke="#000" stroke-width="1.1"/>
<text class="t" x="394.4" y="734.59" text-anchor="end">0.25</text>
<line x1="398" y1="746.01" x2="401.8" y2="746.01" stroke="#000" stroke-width="1.1"/>
<text class="t" x="394.4" y="749.46" text-anchor="end">0.12</text>
<line x1="398" y1="760.89" x2="401.8" y2="760.89" stroke="#000" stroke-width="1.1"/>
<text class="t" x="394.4" y="764.34" text-anchor="end">0.06</text>
<line x1="398" y1="775.76" x2="401.8" y2="775.76" stroke="#000" stroke-width="1.1"/>
<text class="t" x="394.4" y="779.21" text-anchor="end">0</text>
<line x1="411.23" y1="783.2" x2="411.23" y2="787.4" stroke="#000" stroke-width="1.1"/>
<text class="t" x="418.78" y="796.95" text-anchor="end" transform="rotate(-45 418.78 796.95)">0</text>
<line x1="430.07" y1="783.2" x2="430.07" y2="787.4" stroke="#000" stroke-width="1.1"/>
<text class="t" x="437.47" y="796.95" text-anchor="end" transform="rotate(-45 437.47 796.95)">0.07</text>
<line x1="448.93" y1="783.2" x2="448.93" y2="787.4" stroke="#000" stroke-width="1.1"/>
<text class="t" x="456.16" y="796.95" text-anchor="end" transform="rotate(-45 456.16 796.95)">0.15</text>
<line x1="467.77" y1="783.2" x2="467.77" y2="787.4" stroke="#000" stroke-width="1.1"/>
<text class="t" x="474.85" y="796.95" text-anchor="end" transform="rotate(-45 474.85 796.95)">0.31</text>
<line x1="486.62" y1="783.2" x2="486.62" y2="787.4" stroke="#000" stroke-width="1.1"/>
<text class="t" x="493.54" y="796.95" text-anchor="end" transform="rotate(-45 493.54 796.95)">0.62</text>
<line x1="505.48" y1="783.2" x2="505.48" y2="787.4" stroke="#000" stroke-width="1.1"/>
<text class="t" x="512.23" y="796.95" text-anchor="end" transform="rotate(-45 512.23 796.95)">1.25</text>
<line x1="524.33" y1="783.2" x2="524.33" y2="787.4" stroke="#000" stroke-width="1.1"/>
<text class="t" x="530.92" y="796.95" text-anchor="end" transform="rotate(-45 530.92 796.95)">2.50</text>
<line x1="543.17" y1="783.2" x2="543.17" y2="787.4" stroke="#000" stroke-width="1.1"/>
<text class="t" x="549.61" y="796.95" text-anchor="end" transform="rotate(-45 549.61 796.95)">5.0</text>
<line x1="562.02" y1="783.2" x2="562.02" y2="787.4" stroke="#000" stroke-width="1.1"/>
<text class="t" x="568.3" y="796.95" text-anchor="end" transform="rotate(-45 568.3 796.95)">10.0</text>
<line x1="580.88" y1="783.2" x2="580.88" y2="787.4" stroke="#000" stroke-width="1.1"/>
<text class="t" x="586.99" y="796.95" text-anchor="end" transform="rotate(-45 586.99 796.95)">20.0</text>
<line x1="599.73" y1="783.2" x2="599.73" y2="787.4" stroke="#000" stroke-width="1.1"/>
<text class="t" x="605.68" y="796.95" text-anchor="end" transform="rotate(-45 605.68 796.95)">40.0</text>
<line x1="618.58" y1="783.2" x2="618.58" y2="787.4" stroke="#000" stroke-width="1.1"/>
<text class="t" x="624.37" y="796.95" text-anchor="end" transform="rotate(-45 624.37 796.95)">80.0</text>
<text class="tx" x="415.4" y="656.3" textLength="195.4" lengthAdjust="spacingAndGlyphs">COL+VOR, Synergy: 0.902 (no interaction)</text>
<text class="tx" x="491.1" y="827" textLength="43.6" lengthAdjust="spacingAndGlyphs">COL (µM)</text>
<text class="tx" transform="translate(364.5 751.3) rotate(-90)" x="0" y="0" textLength="59.8" lengthAdjust="spacingAndGlyphs">VOR (µg/mL)</text>
<text class="le" x="352.3" y="656.6">h.</text>
<defs><linearGradient id="cg" x1="0" y1="1" x2="0" y2="0"><stop offset="0" stop-color="#000"/><stop offset="1" stop-color="#00cc00"/></linearGradient></defs>
<rect x="659.8" y="0.3" width="10.6" height="141.5" fill="url(#cg)" stroke="#000" stroke-width="1"/>
<line x1="660" y1="10" x2="662" y2="10" stroke="#000" stroke-width="0.8"/>
<line x1="668.2" y1="10" x2="670.2" y2="10" stroke="#000" stroke-width="0.8"/>
<text class="cbt" x="674" y="12.3" transform="translate(674 0) scale(0.66 1) translate(-674 0)">100</text>
<line x1="660" y1="40.3" x2="662" y2="40.3" stroke="#000" stroke-width="0.8"/>
<line x1="668.2" y1="40.3" x2="670.2" y2="40.3" stroke="#000" stroke-width="0.8"/>
<text class="cbt" x="674" y="42.6" transform="translate(674 0) scale(0.66 1) translate(-674 0)">80</text>
<line x1="660" y1="70.6" x2="662" y2="70.6" stroke="#000" stroke-width="0.8"/>
<line x1="668.2" y1="70.6" x2="670.2" y2="70.6" stroke="#000" stroke-width="0.8"/>
<text class="cbt" x="674" y="72.9" transform="translate(674 0) scale(0.66 1) translate(-674 0)">60</text>
<line x1="660" y1="100.9" x2="662" y2="100.9" stroke="#000" stroke-width="0.8"/>
<line x1="668.2" y1="100.9" x2="670.2" y2="100.9" stroke="#000" stroke-width="0.8"/>
<text class="cbt" x="674" y="103.2" transform="translate(674 0) scale(0.66 1) translate(-674 0)">40</text>
<line x1="660" y1="131.2" x2="662" y2="131.2" stroke="#000" stroke-width="0.8"/>
<line x1="668.2" y1="131.2" x2="670.2" y2="131.2" stroke="#000" stroke-width="0.8"/>
<text class="cbt" x="674" y="133.5" transform="translate(674 0) scale(0.66 1) translate(-674 0)">20</text>
</svg>
</body></html>
